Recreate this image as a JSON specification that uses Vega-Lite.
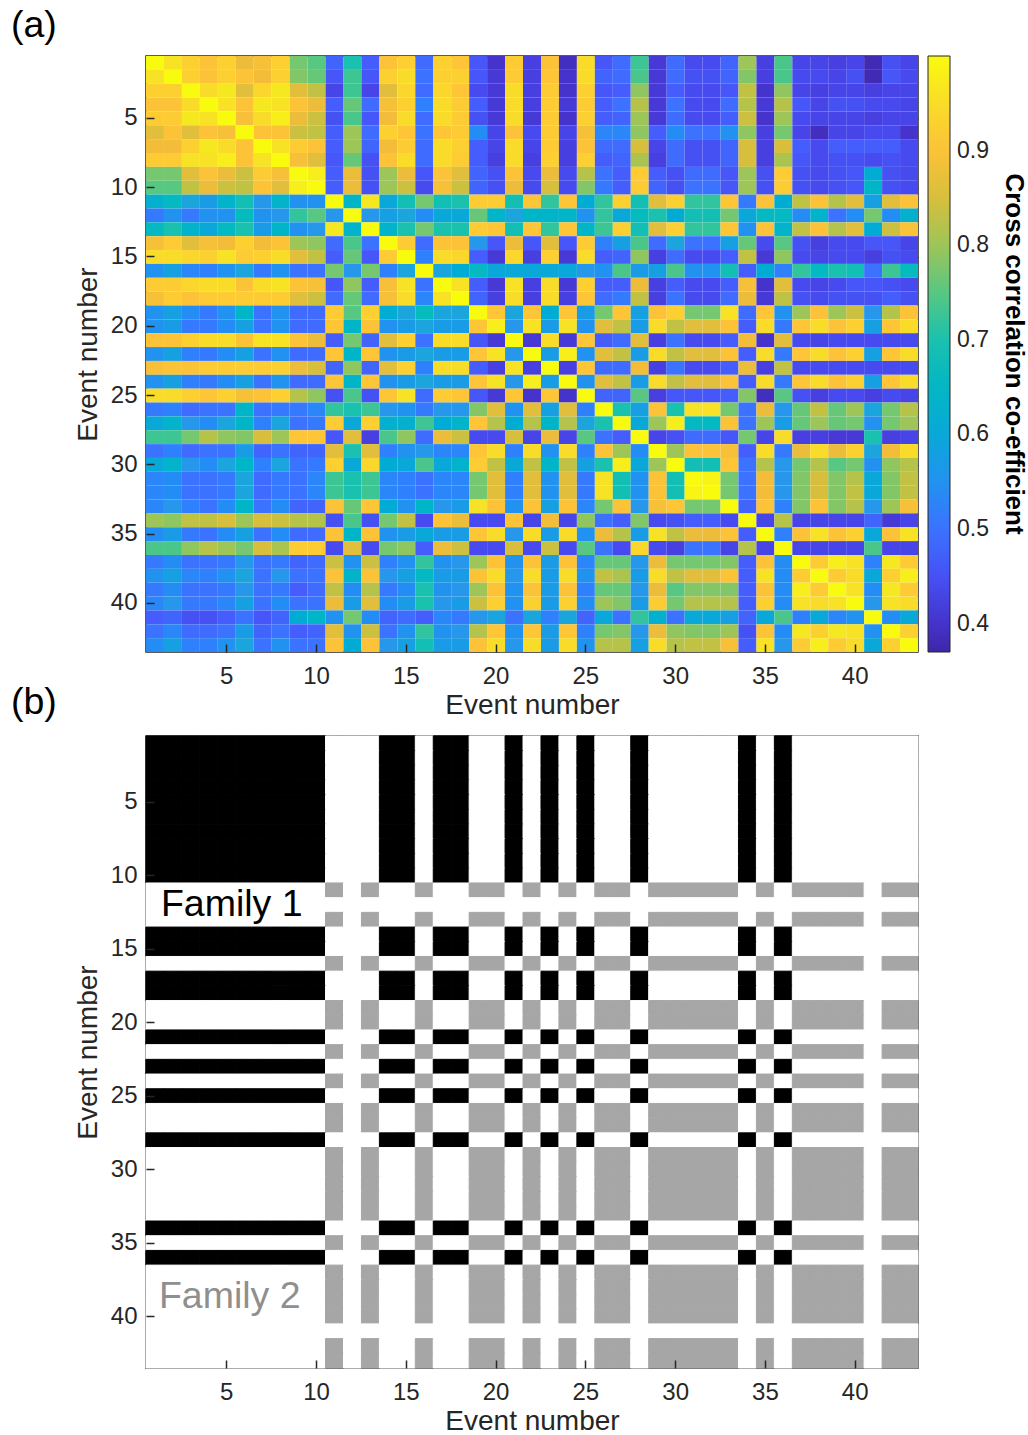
{
"$schema":"https://vega.github.io/schema/vega-lite/v6.json",
"padding":{"left":10,"top":6,"right":0,"bottom":0},
"background":"white",
"config":{
 "font":"Liberation Sans",
 "view":{"stroke":"#262626","strokeWidth":1.5},
 "axis":{"grid":false,"domain":false,"labelFont":"Liberation Sans","titleFont":"Liberation Sans","labelFontSize":24,"titleFontSize":28,"titleFontWeight":"normal","labelColor":"#262626","titleColor":"#262626","tickColor":"#262626","tickWidth":1.5,"tickSize":-8},
 "legend":{"labelFont":"Liberation Sans","titleFont":"Liberation Sans"}
},
"datasets":{"m":[
{"y":1,"x":1,"c":1,"f":1},{"y":1,"x":2,"c":0.96,"f":1},{"y":1,"x":3,"c":0.93,"f":1},{"y":1,"x":4,"c":0.9,"f":1},{"y":1,"x":5,"c":0.93,"f":1},{"y":1,"x":6,"c":0.87,"f":1},{"y":1,"x":7,"c":0.89,"f":1},{"y":1,"x":8,"c":0.93,"f":1},{"y":1,"x":9,"c":0.77,"f":1},{"y":1,"x":10,"c":0.75,"f":1},{"y":1,"x":11,"c":0.48,"f":0},{"y":1,"x":12,"c":0.7,"f":0},{"y":1,"x":13,"c":0.47,"f":0},{"y":1,"x":14,"c":0.9,"f":1},{"y":1,"x":15,"c":0.93,"f":1},{"y":1,"x":16,"c":0.49,"f":0},{"y":1,"x":17,"c":0.93,"f":1},{"y":1,"x":18,"c":0.91,"f":1},{"y":1,"x":19,"c":0.46,"f":0},{"y":1,"x":20,"c":0.4,"f":0},{"y":1,"x":21,"c":0.92,"f":1},{"y":1,"x":22,"c":0.42,"f":0},{"y":1,"x":23,"c":0.9,"f":1},{"y":1,"x":24,"c":0.39,"f":0},{"y":1,"x":25,"c":0.95,"f":1},{"y":1,"x":26,"c":0.46,"f":0},{"y":1,"x":27,"c":0.49,"f":0},{"y":1,"x":28,"c":0.73,"f":1},{"y":1,"x":29,"c":0.41,"f":0},{"y":1,"x":30,"c":0.49,"f":0},{"y":1,"x":31,"c":0.44,"f":0},{"y":1,"x":32,"c":0.44,"f":0},{"y":1,"x":33,"c":0.48,"f":0},{"y":1,"x":34,"c":0.8,"f":1},{"y":1,"x":35,"c":0.42,"f":0},{"y":1,"x":36,"c":0.74,"f":1},{"y":1,"x":37,"c":0.43,"f":0},{"y":1,"x":38,"c":0.43,"f":0},{"y":1,"x":39,"c":0.42,"f":0},{"y":1,"x":40,"c":0.43,"f":0},{"y":1,"x":41,"c":0.38,"f":0},{"y":1,"x":42,"c":0.45,"f":0},{"y":1,"x":43,"c":0.43,"f":0},
{"y":2,"x":1,"c":0.96,"f":1},{"y":2,"x":2,"c":1,"f":1},{"y":2,"x":3,"c":0.93,"f":1},{"y":2,"x":4,"c":0.9,"f":1},{"y":2,"x":5,"c":0.93,"f":1},{"y":2,"x":6,"c":0.9,"f":1},{"y":2,"x":7,"c":0.88,"f":1},{"y":2,"x":8,"c":0.93,"f":1},{"y":2,"x":9,"c":0.78,"f":1},{"y":2,"x":10,"c":0.76,"f":1},{"y":2,"x":11,"c":0.46,"f":0},{"y":2,"x":12,"c":0.73,"f":0},{"y":2,"x":13,"c":0.46,"f":0},{"y":2,"x":14,"c":0.93,"f":1},{"y":2,"x":15,"c":0.95,"f":1},{"y":2,"x":16,"c":0.5,"f":0},{"y":2,"x":17,"c":0.93,"f":1},{"y":2,"x":18,"c":0.93,"f":1},{"y":2,"x":19,"c":0.46,"f":0},{"y":2,"x":20,"c":0.41,"f":0},{"y":2,"x":21,"c":0.92,"f":1},{"y":2,"x":22,"c":0.42,"f":0},{"y":2,"x":23,"c":0.91,"f":1},{"y":2,"x":24,"c":0.4,"f":0},{"y":2,"x":25,"c":0.95,"f":1},{"y":2,"x":26,"c":0.48,"f":0},{"y":2,"x":27,"c":0.49,"f":0},{"y":2,"x":28,"c":0.74,"f":1},{"y":2,"x":29,"c":0.41,"f":0},{"y":2,"x":30,"c":0.49,"f":0},{"y":2,"x":31,"c":0.45,"f":0},{"y":2,"x":32,"c":0.45,"f":0},{"y":2,"x":33,"c":0.48,"f":0},{"y":2,"x":34,"c":0.78,"f":1},{"y":2,"x":35,"c":0.42,"f":0},{"y":2,"x":36,"c":0.74,"f":1},{"y":2,"x":37,"c":0.44,"f":0},{"y":2,"x":38,"c":0.44,"f":0},{"y":2,"x":39,"c":0.43,"f":0},{"y":2,"x":40,"c":0.45,"f":0},{"y":2,"x":41,"c":0.38,"f":0},{"y":2,"x":42,"c":0.46,"f":0},{"y":2,"x":43,"c":0.44,"f":0},
{"y":3,"x":1,"c":0.93,"f":1},{"y":3,"x":2,"c":0.93,"f":1},{"y":3,"x":3,"c":1,"f":1},{"y":3,"x":4,"c":0.95,"f":1},{"y":3,"x":5,"c":0.97,"f":1},{"y":3,"x":6,"c":0.86,"f":1},{"y":3,"x":7,"c":0.94,"f":1},{"y":3,"x":8,"c":0.97,"f":1},{"y":3,"x":9,"c":0.86,"f":1},{"y":3,"x":10,"c":0.83,"f":1},{"y":3,"x":11,"c":0.43,"f":0},{"y":3,"x":12,"c":0.73,"f":0},{"y":3,"x":13,"c":0.43,"f":0},{"y":3,"x":14,"c":0.86,"f":1},{"y":3,"x":15,"c":0.94,"f":1},{"y":3,"x":16,"c":0.49,"f":0},{"y":3,"x":17,"c":0.94,"f":1},{"y":3,"x":18,"c":0.91,"f":1},{"y":3,"x":19,"c":0.44,"f":0},{"y":3,"x":20,"c":0.41,"f":0},{"y":3,"x":21,"c":0.95,"f":1},{"y":3,"x":22,"c":0.42,"f":0},{"y":3,"x":23,"c":0.92,"f":1},{"y":3,"x":24,"c":0.4,"f":0},{"y":3,"x":25,"c":0.93,"f":1},{"y":3,"x":26,"c":0.46,"f":0},{"y":3,"x":27,"c":0.47,"f":0},{"y":3,"x":28,"c":0.79,"f":1},{"y":3,"x":29,"c":0.41,"f":0},{"y":3,"x":30,"c":0.47,"f":0},{"y":3,"x":31,"c":0.44,"f":0},{"y":3,"x":32,"c":0.44,"f":0},{"y":3,"x":33,"c":0.46,"f":0},{"y":3,"x":34,"c":0.83,"f":1},{"y":3,"x":35,"c":0.4,"f":0},{"y":3,"x":36,"c":0.79,"f":1},{"y":3,"x":37,"c":0.43,"f":0},{"y":3,"x":38,"c":0.42,"f":0},{"y":3,"x":39,"c":0.43,"f":0},{"y":3,"x":40,"c":0.43,"f":0},{"y":3,"x":41,"c":0.42,"f":0},{"y":3,"x":42,"c":0.43,"f":0},{"y":3,"x":43,"c":0.43,"f":0},
{"y":4,"x":1,"c":0.9,"f":1},{"y":4,"x":2,"c":0.9,"f":1},{"y":4,"x":3,"c":0.95,"f":1},{"y":4,"x":4,"c":1,"f":1},{"y":4,"x":5,"c":0.96,"f":1},{"y":4,"x":6,"c":0.9,"f":1},{"y":4,"x":7,"c":0.97,"f":1},{"y":4,"x":8,"c":0.96,"f":1},{"y":4,"x":9,"c":0.9,"f":1},{"y":4,"x":10,"c":0.87,"f":1},{"y":4,"x":11,"c":0.47,"f":0},{"y":4,"x":12,"c":0.76,"f":0},{"y":4,"x":13,"c":0.49,"f":0},{"y":4,"x":14,"c":0.89,"f":1},{"y":4,"x":15,"c":0.93,"f":1},{"y":4,"x":16,"c":0.52,"f":0},{"y":4,"x":17,"c":0.95,"f":1},{"y":4,"x":18,"c":0.92,"f":1},{"y":4,"x":19,"c":0.47,"f":0},{"y":4,"x":20,"c":0.41,"f":0},{"y":4,"x":21,"c":0.95,"f":1},{"y":4,"x":22,"c":0.42,"f":0},{"y":4,"x":23,"c":0.92,"f":1},{"y":4,"x":24,"c":0.41,"f":0},{"y":4,"x":25,"c":0.92,"f":1},{"y":4,"x":26,"c":0.47,"f":0},{"y":4,"x":27,"c":0.5,"f":0},{"y":4,"x":28,"c":0.82,"f":1},{"y":4,"x":29,"c":0.41,"f":0},{"y":4,"x":30,"c":0.5,"f":0},{"y":4,"x":31,"c":0.44,"f":0},{"y":4,"x":32,"c":0.44,"f":0},{"y":4,"x":33,"c":0.49,"f":0},{"y":4,"x":34,"c":0.82,"f":1},{"y":4,"x":35,"c":0.41,"f":0},{"y":4,"x":36,"c":0.82,"f":1},{"y":4,"x":37,"c":0.46,"f":0},{"y":4,"x":38,"c":0.43,"f":0},{"y":4,"x":39,"c":0.45,"f":0},{"y":4,"x":40,"c":0.45,"f":0},{"y":4,"x":41,"c":0.44,"f":0},{"y":4,"x":42,"c":0.44,"f":0},{"y":4,"x":43,"c":0.43,"f":0},
{"y":5,"x":1,"c":0.92,"f":1},{"y":5,"x":2,"c":0.92,"f":1},{"y":5,"x":3,"c":0.97,"f":1},{"y":5,"x":4,"c":0.96,"f":1},{"y":5,"x":5,"c":1,"f":1},{"y":5,"x":6,"c":0.89,"f":1},{"y":5,"x":7,"c":0.95,"f":1},{"y":5,"x":8,"c":0.98,"f":1},{"y":5,"x":9,"c":0.87,"f":1},{"y":5,"x":10,"c":0.84,"f":1},{"y":5,"x":11,"c":0.45,"f":0},{"y":5,"x":12,"c":0.74,"f":0},{"y":5,"x":13,"c":0.46,"f":0},{"y":5,"x":14,"c":0.88,"f":1},{"y":5,"x":15,"c":0.95,"f":1},{"y":5,"x":16,"c":0.49,"f":0},{"y":5,"x":17,"c":0.95,"f":1},{"y":5,"x":18,"c":0.92,"f":1},{"y":5,"x":19,"c":0.45,"f":0},{"y":5,"x":20,"c":0.41,"f":0},{"y":5,"x":21,"c":0.95,"f":1},{"y":5,"x":22,"c":0.41,"f":0},{"y":5,"x":23,"c":0.92,"f":1},{"y":5,"x":24,"c":0.4,"f":0},{"y":5,"x":25,"c":0.93,"f":1},{"y":5,"x":26,"c":0.47,"f":0},{"y":5,"x":27,"c":0.48,"f":0},{"y":5,"x":28,"c":0.8,"f":1},{"y":5,"x":29,"c":0.41,"f":0},{"y":5,"x":30,"c":0.49,"f":0},{"y":5,"x":31,"c":0.44,"f":0},{"y":5,"x":32,"c":0.44,"f":0},{"y":5,"x":33,"c":0.47,"f":0},{"y":5,"x":34,"c":0.84,"f":1},{"y":5,"x":35,"c":0.4,"f":0},{"y":5,"x":36,"c":0.8,"f":1},{"y":5,"x":37,"c":0.44,"f":0},{"y":5,"x":38,"c":0.43,"f":0},{"y":5,"x":39,"c":0.43,"f":0},{"y":5,"x":40,"c":0.43,"f":0},{"y":5,"x":41,"c":0.42,"f":0},{"y":5,"x":42,"c":0.43,"f":0},{"y":5,"x":43,"c":0.43,"f":0},
{"y":6,"x":1,"c":0.86,"f":1},{"y":6,"x":2,"c":0.9,"f":1},{"y":6,"x":3,"c":0.86,"f":1},{"y":6,"x":4,"c":0.9,"f":1},{"y":6,"x":5,"c":0.89,"f":1},{"y":6,"x":6,"c":1,"f":1},{"y":6,"x":7,"c":0.9,"f":1},{"y":6,"x":8,"c":0.9,"f":1},{"y":6,"x":9,"c":0.84,"f":1},{"y":6,"x":10,"c":0.83,"f":1},{"y":6,"x":11,"c":0.47,"f":0},{"y":6,"x":12,"c":0.8,"f":0},{"y":6,"x":13,"c":0.49,"f":0},{"y":6,"x":14,"c":0.93,"f":1},{"y":6,"x":15,"c":0.91,"f":1},{"y":6,"x":16,"c":0.5,"f":0},{"y":6,"x":17,"c":0.91,"f":1},{"y":6,"x":18,"c":0.92,"f":1},{"y":6,"x":19,"c":0.54,"f":0},{"y":6,"x":20,"c":0.43,"f":0},{"y":6,"x":21,"c":0.9,"f":1},{"y":6,"x":22,"c":0.44,"f":0},{"y":6,"x":23,"c":0.92,"f":1},{"y":6,"x":24,"c":0.43,"f":0},{"y":6,"x":25,"c":0.89,"f":1},{"y":6,"x":26,"c":0.53,"f":0},{"y":6,"x":27,"c":0.53,"f":0},{"y":6,"x":28,"c":0.79,"f":1},{"y":6,"x":29,"c":0.47,"f":0},{"y":6,"x":30,"c":0.54,"f":0},{"y":6,"x":31,"c":0.5,"f":0},{"y":6,"x":32,"c":0.5,"f":0},{"y":6,"x":33,"c":0.55,"f":0},{"y":6,"x":34,"c":0.79,"f":1},{"y":6,"x":35,"c":0.42,"f":0},{"y":6,"x":36,"c":0.77,"f":1},{"y":6,"x":37,"c":0.43,"f":0},{"y":6,"x":38,"c":0.39,"f":0},{"y":6,"x":39,"c":0.43,"f":0},{"y":6,"x":40,"c":0.43,"f":0},{"y":6,"x":41,"c":0.44,"f":0},{"y":6,"x":42,"c":0.44,"f":0},{"y":6,"x":43,"c":0.4,"f":0},
{"y":7,"x":1,"c":0.88,"f":1},{"y":7,"x":2,"c":0.88,"f":1},{"y":7,"x":3,"c":0.93,"f":1},{"y":7,"x":4,"c":0.97,"f":1},{"y":7,"x":5,"c":0.95,"f":1},{"y":7,"x":6,"c":0.9,"f":1},{"y":7,"x":7,"c":1,"f":1},{"y":7,"x":8,"c":0.96,"f":1},{"y":7,"x":9,"c":0.92,"f":1},{"y":7,"x":10,"c":0.9,"f":1},{"y":7,"x":11,"c":0.47,"f":0},{"y":7,"x":12,"c":0.8,"f":0},{"y":7,"x":13,"c":0.48,"f":0},{"y":7,"x":14,"c":0.88,"f":1},{"y":7,"x":15,"c":0.92,"f":1},{"y":7,"x":16,"c":0.49,"f":0},{"y":7,"x":17,"c":0.95,"f":1},{"y":7,"x":18,"c":0.93,"f":1},{"y":7,"x":19,"c":0.47,"f":0},{"y":7,"x":20,"c":0.43,"f":0},{"y":7,"x":21,"c":0.95,"f":1},{"y":7,"x":22,"c":0.43,"f":0},{"y":7,"x":23,"c":0.92,"f":1},{"y":7,"x":24,"c":0.42,"f":0},{"y":7,"x":25,"c":0.9,"f":1},{"y":7,"x":26,"c":0.49,"f":0},{"y":7,"x":27,"c":0.49,"f":0},{"y":7,"x":28,"c":0.85,"f":1},{"y":7,"x":29,"c":0.43,"f":0},{"y":7,"x":30,"c":0.49,"f":0},{"y":7,"x":31,"c":0.45,"f":0},{"y":7,"x":32,"c":0.45,"f":0},{"y":7,"x":33,"c":0.48,"f":0},{"y":7,"x":34,"c":0.85,"f":1},{"y":7,"x":35,"c":0.42,"f":0},{"y":7,"x":36,"c":0.85,"f":1},{"y":7,"x":37,"c":0.47,"f":0},{"y":7,"x":38,"c":0.44,"f":0},{"y":7,"x":39,"c":0.47,"f":0},{"y":7,"x":40,"c":0.47,"f":0},{"y":7,"x":41,"c":0.47,"f":0},{"y":7,"x":42,"c":0.47,"f":0},{"y":7,"x":43,"c":0.44,"f":0},
{"y":8,"x":1,"c":0.92,"f":1},{"y":8,"x":2,"c":0.92,"f":1},{"y":8,"x":3,"c":0.96,"f":1},{"y":8,"x":4,"c":0.96,"f":1},{"y":8,"x":5,"c":0.98,"f":1},{"y":8,"x":6,"c":0.9,"f":1},{"y":8,"x":7,"c":0.96,"f":1},{"y":8,"x":8,"c":1,"f":1},{"y":8,"x":9,"c":0.89,"f":1},{"y":8,"x":10,"c":0.86,"f":1},{"y":8,"x":11,"c":0.46,"f":0},{"y":8,"x":12,"c":0.76,"f":0},{"y":8,"x":13,"c":0.45,"f":0},{"y":8,"x":14,"c":0.9,"f":1},{"y":8,"x":15,"c":0.95,"f":1},{"y":8,"x":16,"c":0.49,"f":0},{"y":8,"x":17,"c":0.95,"f":1},{"y":8,"x":18,"c":0.92,"f":1},{"y":8,"x":19,"c":0.47,"f":0},{"y":8,"x":20,"c":0.42,"f":0},{"y":8,"x":21,"c":0.95,"f":1},{"y":8,"x":22,"c":0.42,"f":0},{"y":8,"x":23,"c":0.93,"f":1},{"y":8,"x":24,"c":0.42,"f":0},{"y":8,"x":25,"c":0.93,"f":1},{"y":8,"x":26,"c":0.47,"f":0},{"y":8,"x":27,"c":0.48,"f":0},{"y":8,"x":28,"c":0.81,"f":1},{"y":8,"x":29,"c":0.42,"f":0},{"y":8,"x":30,"c":0.49,"f":0},{"y":8,"x":31,"c":0.45,"f":0},{"y":8,"x":32,"c":0.45,"f":0},{"y":8,"x":33,"c":0.48,"f":0},{"y":8,"x":34,"c":0.85,"f":1},{"y":8,"x":35,"c":0.42,"f":0},{"y":8,"x":36,"c":0.81,"f":1},{"y":8,"x":37,"c":0.46,"f":0},{"y":8,"x":38,"c":0.44,"f":0},{"y":8,"x":39,"c":0.45,"f":0},{"y":8,"x":40,"c":0.45,"f":0},{"y":8,"x":41,"c":0.44,"f":0},{"y":8,"x":42,"c":0.45,"f":0},{"y":8,"x":43,"c":0.44,"f":0},
{"y":9,"x":1,"c":0.77,"f":1},{"y":9,"x":2,"c":0.77,"f":1},{"y":9,"x":3,"c":0.86,"f":1},{"y":9,"x":4,"c":0.9,"f":1},{"y":9,"x":5,"c":0.87,"f":1},{"y":9,"x":6,"c":0.84,"f":1},{"y":9,"x":7,"c":0.92,"f":1},{"y":9,"x":8,"c":0.89,"f":1},{"y":9,"x":9,"c":1,"f":1},{"y":9,"x":10,"c":0.98,"f":1},{"y":9,"x":11,"c":0.47,"f":0},{"y":9,"x":12,"c":0.87,"f":0},{"y":9,"x":13,"c":0.45,"f":0},{"y":9,"x":14,"c":0.8,"f":1},{"y":9,"x":15,"c":0.87,"f":1},{"y":9,"x":16,"c":0.46,"f":0},{"y":9,"x":17,"c":0.9,"f":1},{"y":9,"x":18,"c":0.86,"f":1},{"y":9,"x":19,"c":0.48,"f":0},{"y":9,"x":20,"c":0.45,"f":0},{"y":9,"x":21,"c":0.9,"f":1},{"y":9,"x":22,"c":0.44,"f":0},{"y":9,"x":23,"c":0.87,"f":1},{"y":9,"x":24,"c":0.44,"f":0},{"y":9,"x":25,"c":0.82,"f":1},{"y":9,"x":26,"c":0.5,"f":0},{"y":9,"x":27,"c":0.47,"f":0},{"y":9,"x":28,"c":0.92,"f":1},{"y":9,"x":29,"c":0.47,"f":0},{"y":9,"x":30,"c":0.45,"f":0},{"y":9,"x":31,"c":0.49,"f":0},{"y":9,"x":32,"c":0.49,"f":0},{"y":9,"x":33,"c":0.46,"f":0},{"y":9,"x":34,"c":0.8,"f":1},{"y":9,"x":35,"c":0.45,"f":0},{"y":9,"x":36,"c":0.92,"f":1},{"y":9,"x":37,"c":0.45,"f":0},{"y":9,"x":38,"c":0.44,"f":0},{"y":9,"x":39,"c":0.45,"f":0},{"y":9,"x":40,"c":0.46,"f":0},{"y":9,"x":41,"c":0.61,"f":0},{"y":9,"x":42,"c":0.45,"f":0},{"y":9,"x":43,"c":0.44,"f":0},
{"y":10,"x":1,"c":0.75,"f":1},{"y":10,"x":2,"c":0.75,"f":1},{"y":10,"x":3,"c":0.83,"f":1},{"y":10,"x":4,"c":0.87,"f":1},{"y":10,"x":5,"c":0.84,"f":1},{"y":10,"x":6,"c":0.83,"f":1},{"y":10,"x":7,"c":0.9,"f":1},{"y":10,"x":8,"c":0.86,"f":1},{"y":10,"x":9,"c":0.98,"f":1},{"y":10,"x":10,"c":1,"f":1},{"y":10,"x":11,"c":0.47,"f":0},{"y":10,"x":12,"c":0.87,"f":0},{"y":10,"x":13,"c":0.45,"f":0},{"y":10,"x":14,"c":0.8,"f":1},{"y":10,"x":15,"c":0.84,"f":1},{"y":10,"x":16,"c":0.44,"f":0},{"y":10,"x":17,"c":0.89,"f":1},{"y":10,"x":18,"c":0.84,"f":1},{"y":10,"x":19,"c":0.48,"f":0},{"y":10,"x":20,"c":0.45,"f":0},{"y":10,"x":21,"c":0.87,"f":1},{"y":10,"x":22,"c":0.44,"f":0},{"y":10,"x":23,"c":0.85,"f":1},{"y":10,"x":24,"c":0.44,"f":0},{"y":10,"x":25,"c":0.78,"f":1},{"y":10,"x":26,"c":0.51,"f":0},{"y":10,"x":27,"c":0.47,"f":0},{"y":10,"x":28,"c":0.92,"f":1},{"y":10,"x":29,"c":0.48,"f":0},{"y":10,"x":30,"c":0.45,"f":0},{"y":10,"x":31,"c":0.5,"f":0},{"y":10,"x":32,"c":0.5,"f":0},{"y":10,"x":33,"c":0.46,"f":0},{"y":10,"x":34,"c":0.8,"f":1},{"y":10,"x":35,"c":0.45,"f":0},{"y":10,"x":36,"c":0.92,"f":1},{"y":10,"x":37,"c":0.45,"f":0},{"y":10,"x":38,"c":0.44,"f":0},{"y":10,"x":39,"c":0.45,"f":0},{"y":10,"x":40,"c":0.46,"f":0},{"y":10,"x":41,"c":0.64,"f":0},{"y":10,"x":42,"c":0.45,"f":0},{"y":10,"x":43,"c":0.44,"f":0},
{"y":11,"x":1,"c":0.62,"f":0},{"y":11,"x":2,"c":0.66,"f":0},{"y":11,"x":3,"c":0.59,"f":0},{"y":11,"x":4,"c":0.57,"f":0},{"y":11,"x":5,"c":0.63,"f":0},{"y":11,"x":6,"c":0.69,"f":0},{"y":11,"x":7,"c":0.56,"f":0},{"y":11,"x":8,"c":0.63,"f":0},{"y":11,"x":9,"c":0.55,"f":0},{"y":11,"x":10,"c":0.55,"f":0},{"y":11,"x":11,"c":1,"f":2},{"y":11,"x":12,"c":0.64,"f":0},{"y":11,"x":13,"c":0.97,"f":2},{"y":11,"x":14,"c":0.6,"f":0},{"y":11,"x":15,"c":0.69,"f":0},{"y":11,"x":16,"c":0.77,"f":2},{"y":11,"x":17,"c":0.69,"f":0},{"y":11,"x":18,"c":0.7,"f":0},{"y":11,"x":19,"c":0.92,"f":2},{"y":11,"x":20,"c":0.92,"f":2},{"y":11,"x":21,"c":0.69,"f":0},{"y":11,"x":22,"c":0.91,"f":2},{"y":11,"x":23,"c":0.72,"f":0},{"y":11,"x":24,"c":0.91,"f":2},{"y":11,"x":25,"c":0.61,"f":0},{"y":11,"x":26,"c":0.72,"f":2},{"y":11,"x":27,"c":0.93,"f":2},{"y":11,"x":28,"c":0.69,"f":0},{"y":11,"x":29,"c":0.86,"f":2},{"y":11,"x":30,"c":0.93,"f":2},{"y":11,"x":31,"c":0.72,"f":2},{"y":11,"x":32,"c":0.72,"f":2},{"y":11,"x":33,"c":0.91,"f":2},{"y":11,"x":34,"c":0.51,"f":0},{"y":11,"x":35,"c":0.9,"f":2},{"y":11,"x":36,"c":0.61,"f":0},{"y":11,"x":37,"c":0.83,"f":2},{"y":11,"x":38,"c":0.9,"f":2},{"y":11,"x":39,"c":0.82,"f":2},{"y":11,"x":40,"c":0.86,"f":2},{"y":11,"x":41,"c":0.58,"f":0},{"y":11,"x":42,"c":0.86,"f":2},{"y":11,"x":43,"c":0.9,"f":2},
{"y":12,"x":1,"c":0.51,"f":0},{"y":12,"x":2,"c":0.55,"f":0},{"y":12,"x":3,"c":0.51,"f":0},{"y":12,"x":4,"c":0.55,"f":0},{"y":12,"x":5,"c":0.55,"f":0},{"y":12,"x":6,"c":0.67,"f":0},{"y":12,"x":7,"c":0.55,"f":0},{"y":12,"x":8,"c":0.56,"f":0},{"y":12,"x":9,"c":0.72,"f":0},{"y":12,"x":10,"c":0.75,"f":0},{"y":12,"x":11,"c":0.56,"f":0},{"y":12,"x":12,"c":1,"f":0},{"y":12,"x":13,"c":0.56,"f":0},{"y":12,"x":14,"c":0.58,"f":0},{"y":12,"x":15,"c":0.59,"f":0},{"y":12,"x":16,"c":0.54,"f":0},{"y":12,"x":17,"c":0.6,"f":0},{"y":12,"x":18,"c":0.6,"f":0},{"y":12,"x":19,"c":0.76,"f":0},{"y":12,"x":20,"c":0.64,"f":0},{"y":12,"x":21,"c":0.59,"f":0},{"y":12,"x":22,"c":0.64,"f":0},{"y":12,"x":23,"c":0.64,"f":0},{"y":12,"x":24,"c":0.64,"f":0},{"y":12,"x":25,"c":0.55,"f":0},{"y":12,"x":26,"c":0.72,"f":0},{"y":12,"x":27,"c":0.6,"f":0},{"y":12,"x":28,"c":0.67,"f":0},{"y":12,"x":29,"c":0.7,"f":0},{"y":12,"x":30,"c":0.61,"f":0},{"y":12,"x":31,"c":0.69,"f":0},{"y":12,"x":32,"c":0.69,"f":0},{"y":12,"x":33,"c":0.77,"f":0},{"y":12,"x":34,"c":0.6,"f":0},{"y":12,"x":35,"c":0.66,"f":0},{"y":12,"x":36,"c":0.66,"f":0},{"y":12,"x":37,"c":0.54,"f":0},{"y":12,"x":38,"c":0.63,"f":0},{"y":12,"x":39,"c":0.5,"f":0},{"y":12,"x":40,"c":0.54,"f":0},{"y":12,"x":41,"c":0.77,"f":0},{"y":12,"x":42,"c":0.54,"f":0},{"y":12,"x":43,"c":0.62,"f":0},
{"y":13,"x":1,"c":0.66,"f":0},{"y":13,"x":2,"c":0.7,"f":0},{"y":13,"x":3,"c":0.63,"f":0},{"y":13,"x":4,"c":0.6,"f":0},{"y":13,"x":5,"c":0.66,"f":0},{"y":13,"x":6,"c":0.7,"f":0},{"y":13,"x":7,"c":0.57,"f":0},{"y":13,"x":8,"c":0.64,"f":0},{"y":13,"x":9,"c":0.55,"f":0},{"y":13,"x":10,"c":0.56,"f":0},{"y":13,"x":11,"c":0.97,"f":2},{"y":13,"x":12,"c":0.63,"f":0},{"y":13,"x":13,"c":1,"f":2},{"y":13,"x":14,"c":0.63,"f":0},{"y":13,"x":15,"c":0.7,"f":0},{"y":13,"x":16,"c":0.77,"f":2},{"y":13,"x":17,"c":0.7,"f":0},{"y":13,"x":18,"c":0.7,"f":0},{"y":13,"x":19,"c":0.92,"f":2},{"y":13,"x":20,"c":0.91,"f":2},{"y":13,"x":21,"c":0.69,"f":0},{"y":13,"x":22,"c":0.91,"f":2},{"y":13,"x":23,"c":0.72,"f":0},{"y":13,"x":24,"c":0.91,"f":2},{"y":13,"x":25,"c":0.64,"f":0},{"y":13,"x":26,"c":0.73,"f":2},{"y":13,"x":27,"c":0.93,"f":2},{"y":13,"x":28,"c":0.69,"f":0},{"y":13,"x":29,"c":0.86,"f":2},{"y":13,"x":30,"c":0.93,"f":2},{"y":13,"x":31,"c":0.72,"f":2},{"y":13,"x":32,"c":0.72,"f":2},{"y":13,"x":33,"c":0.91,"f":2},{"y":13,"x":34,"c":0.55,"f":0},{"y":13,"x":35,"c":0.9,"f":2},{"y":13,"x":36,"c":0.63,"f":0},{"y":13,"x":37,"c":0.83,"f":2},{"y":13,"x":38,"c":0.9,"f":2},{"y":13,"x":39,"c":0.82,"f":2},{"y":13,"x":40,"c":0.86,"f":2},{"y":13,"x":41,"c":0.61,"f":0},{"y":13,"x":42,"c":0.84,"f":2},{"y":13,"x":43,"c":0.9,"f":2},
{"y":14,"x":1,"c":0.89,"f":1},{"y":14,"x":2,"c":0.92,"f":1},{"y":14,"x":3,"c":0.86,"f":1},{"y":14,"x":4,"c":0.89,"f":1},{"y":14,"x":5,"c":0.88,"f":1},{"y":14,"x":6,"c":0.93,"f":1},{"y":14,"x":7,"c":0.88,"f":1},{"y":14,"x":8,"c":0.9,"f":1},{"y":14,"x":9,"c":0.8,"f":1},{"y":14,"x":10,"c":0.79,"f":1},{"y":14,"x":11,"c":0.49,"f":0},{"y":14,"x":12,"c":0.74,"f":0},{"y":14,"x":13,"c":0.5,"f":0},{"y":14,"x":14,"c":1,"f":1},{"y":14,"x":15,"c":0.92,"f":1},{"y":14,"x":16,"c":0.49,"f":0},{"y":14,"x":17,"c":0.9,"f":1},{"y":14,"x":18,"c":0.9,"f":1},{"y":14,"x":19,"c":0.56,"f":0},{"y":14,"x":20,"c":0.46,"f":0},{"y":14,"x":21,"c":0.87,"f":1},{"y":14,"x":22,"c":0.46,"f":0},{"y":14,"x":23,"c":0.86,"f":1},{"y":14,"x":24,"c":0.46,"f":0},{"y":14,"x":25,"c":0.92,"f":1},{"y":14,"x":26,"c":0.52,"f":0},{"y":14,"x":27,"c":0.58,"f":0},{"y":14,"x":28,"c":0.74,"f":1},{"y":14,"x":29,"c":0.49,"f":0},{"y":14,"x":30,"c":0.59,"f":0},{"y":14,"x":31,"c":0.5,"f":0},{"y":14,"x":32,"c":0.5,"f":0},{"y":14,"x":33,"c":0.58,"f":0},{"y":14,"x":34,"c":0.76,"f":1},{"y":14,"x":35,"c":0.44,"f":0},{"y":14,"x":36,"c":0.75,"f":1},{"y":14,"x":37,"c":0.45,"f":0},{"y":14,"x":38,"c":0.42,"f":0},{"y":14,"x":39,"c":0.44,"f":0},{"y":14,"x":40,"c":0.44,"f":0},{"y":14,"x":41,"c":0.46,"f":0},{"y":14,"x":42,"c":0.46,"f":0},{"y":14,"x":43,"c":0.43,"f":0},
{"y":15,"x":1,"c":0.95,"f":1},{"y":15,"x":2,"c":0.95,"f":1},{"y":15,"x":3,"c":0.94,"f":1},{"y":15,"x":4,"c":0.93,"f":1},{"y":15,"x":5,"c":0.96,"f":1},{"y":15,"x":6,"c":0.92,"f":1},{"y":15,"x":7,"c":0.93,"f":1},{"y":15,"x":8,"c":0.95,"f":1},{"y":15,"x":9,"c":0.86,"f":1},{"y":15,"x":10,"c":0.83,"f":1},{"y":15,"x":11,"c":0.47,"f":0},{"y":15,"x":12,"c":0.76,"f":0},{"y":15,"x":13,"c":0.46,"f":0},{"y":15,"x":14,"c":0.92,"f":1},{"y":15,"x":15,"c":1,"f":1},{"y":15,"x":16,"c":0.52,"f":0},{"y":15,"x":17,"c":0.95,"f":1},{"y":15,"x":18,"c":0.94,"f":1},{"y":15,"x":19,"c":0.47,"f":0},{"y":15,"x":20,"c":0.41,"f":0},{"y":15,"x":21,"c":0.94,"f":1},{"y":15,"x":22,"c":0.42,"f":0},{"y":15,"x":23,"c":0.93,"f":1},{"y":15,"x":24,"c":0.41,"f":0},{"y":15,"x":25,"c":0.95,"f":1},{"y":15,"x":26,"c":0.47,"f":0},{"y":15,"x":27,"c":0.48,"f":0},{"y":15,"x":28,"c":0.79,"f":1},{"y":15,"x":29,"c":0.42,"f":0},{"y":15,"x":30,"c":0.49,"f":0},{"y":15,"x":31,"c":0.44,"f":0},{"y":15,"x":32,"c":0.44,"f":0},{"y":15,"x":33,"c":0.47,"f":0},{"y":15,"x":34,"c":0.83,"f":1},{"y":15,"x":35,"c":0.41,"f":0},{"y":15,"x":36,"c":0.79,"f":1},{"y":15,"x":37,"c":0.44,"f":0},{"y":15,"x":38,"c":0.43,"f":0},{"y":15,"x":39,"c":0.44,"f":0},{"y":15,"x":40,"c":0.44,"f":0},{"y":15,"x":41,"c":0.42,"f":0},{"y":15,"x":42,"c":0.45,"f":0},{"y":15,"x":43,"c":0.44,"f":0},
{"y":16,"x":1,"c":0.55,"f":0},{"y":16,"x":2,"c":0.58,"f":0},{"y":16,"x":3,"c":0.53,"f":0},{"y":16,"x":4,"c":0.52,"f":0},{"y":16,"x":5,"c":0.55,"f":0},{"y":16,"x":6,"c":0.59,"f":0},{"y":16,"x":7,"c":0.51,"f":0},{"y":16,"x":8,"c":0.55,"f":0},{"y":16,"x":9,"c":0.5,"f":0},{"y":16,"x":10,"c":0.5,"f":0},{"y":16,"x":11,"c":0.77,"f":2},{"y":16,"x":12,"c":0.56,"f":0},{"y":16,"x":13,"c":0.77,"f":2},{"y":16,"x":14,"c":0.52,"f":0},{"y":16,"x":15,"c":0.59,"f":0},{"y":16,"x":16,"c":1,"f":2},{"y":16,"x":17,"c":0.59,"f":0},{"y":16,"x":18,"c":0.61,"f":0},{"y":16,"x":19,"c":0.66,"f":2},{"y":16,"x":20,"c":0.6,"f":2},{"y":16,"x":21,"c":0.6,"f":0},{"y":16,"x":22,"c":0.6,"f":2},{"y":16,"x":23,"c":0.6,"f":0},{"y":16,"x":24,"c":0.6,"f":2},{"y":16,"x":25,"c":0.56,"f":0},{"y":16,"x":26,"c":0.55,"f":2},{"y":16,"x":27,"c":0.74,"f":2},{"y":16,"x":28,"c":0.57,"f":0},{"y":16,"x":29,"c":0.58,"f":2},{"y":16,"x":30,"c":0.74,"f":2},{"y":16,"x":31,"c":0.55,"f":2},{"y":16,"x":32,"c":0.55,"f":2},{"y":16,"x":33,"c":0.69,"f":2},{"y":16,"x":34,"c":0.47,"f":0},{"y":16,"x":35,"c":0.61,"f":2},{"y":16,"x":36,"c":0.52,"f":0},{"y":16,"x":37,"c":0.72,"f":2},{"y":16,"x":38,"c":0.66,"f":2},{"y":16,"x":39,"c":0.7,"f":2},{"y":16,"x":40,"c":0.69,"f":2},{"y":16,"x":41,"c":0.5,"f":0},{"y":16,"x":42,"c":0.73,"f":2},{"y":16,"x":43,"c":0.67,"f":2},
{"y":17,"x":1,"c":0.92,"f":1},{"y":17,"x":2,"c":0.92,"f":1},{"y":17,"x":3,"c":0.94,"f":1},{"y":17,"x":4,"c":0.95,"f":1},{"y":17,"x":5,"c":0.95,"f":1},{"y":17,"x":6,"c":0.9,"f":1},{"y":17,"x":7,"c":0.95,"f":1},{"y":17,"x":8,"c":0.96,"f":1},{"y":17,"x":9,"c":0.9,"f":1},{"y":17,"x":10,"c":0.89,"f":1},{"y":17,"x":11,"c":0.46,"f":0},{"y":17,"x":12,"c":0.79,"f":0},{"y":17,"x":13,"c":0.47,"f":0},{"y":17,"x":14,"c":0.89,"f":1},{"y":17,"x":15,"c":0.96,"f":1},{"y":17,"x":16,"c":0.5,"f":0},{"y":17,"x":17,"c":1,"f":1},{"y":17,"x":18,"c":0.96,"f":1},{"y":17,"x":19,"c":0.47,"f":0},{"y":17,"x":20,"c":0.41,"f":0},{"y":17,"x":21,"c":0.96,"f":1},{"y":17,"x":22,"c":0.42,"f":0},{"y":17,"x":23,"c":0.95,"f":1},{"y":17,"x":24,"c":0.41,"f":0},{"y":17,"x":25,"c":0.93,"f":1},{"y":17,"x":26,"c":0.47,"f":0},{"y":17,"x":27,"c":0.47,"f":0},{"y":17,"x":28,"c":0.87,"f":1},{"y":17,"x":29,"c":0.42,"f":0},{"y":17,"x":30,"c":0.47,"f":0},{"y":17,"x":31,"c":0.44,"f":0},{"y":17,"x":32,"c":0.44,"f":0},{"y":17,"x":33,"c":0.47,"f":0},{"y":17,"x":34,"c":0.89,"f":1},{"y":17,"x":35,"c":0.4,"f":0},{"y":17,"x":36,"c":0.86,"f":1},{"y":17,"x":37,"c":0.44,"f":0},{"y":17,"x":38,"c":0.43,"f":0},{"y":17,"x":39,"c":0.44,"f":0},{"y":17,"x":40,"c":0.46,"f":0},{"y":17,"x":41,"c":0.46,"f":0},{"y":17,"x":42,"c":0.45,"f":0},{"y":17,"x":43,"c":0.44,"f":0},
{"y":18,"x":1,"c":0.89,"f":1},{"y":18,"x":2,"c":0.92,"f":1},{"y":18,"x":3,"c":0.9,"f":1},{"y":18,"x":4,"c":0.92,"f":1},{"y":18,"x":5,"c":0.92,"f":1},{"y":18,"x":6,"c":0.92,"f":1},{"y":18,"x":7,"c":0.92,"f":1},{"y":18,"x":8,"c":0.92,"f":1},{"y":18,"x":9,"c":0.86,"f":1},{"y":18,"x":10,"c":0.84,"f":1},{"y":18,"x":11,"c":0.49,"f":0},{"y":18,"x":12,"c":0.76,"f":0},{"y":18,"x":13,"c":0.49,"f":0},{"y":18,"x":14,"c":0.89,"f":1},{"y":18,"x":15,"c":0.95,"f":1},{"y":18,"x":16,"c":0.53,"f":0},{"y":18,"x":17,"c":0.96,"f":1},{"y":18,"x":18,"c":1,"f":1},{"y":18,"x":19,"c":0.48,"f":0},{"y":18,"x":20,"c":0.42,"f":0},{"y":18,"x":21,"c":0.95,"f":1},{"y":18,"x":22,"c":0.42,"f":0},{"y":18,"x":23,"c":0.95,"f":1},{"y":18,"x":24,"c":0.42,"f":0},{"y":18,"x":25,"c":0.91,"f":1},{"y":18,"x":26,"c":0.49,"f":0},{"y":18,"x":27,"c":0.51,"f":0},{"y":18,"x":28,"c":0.83,"f":1},{"y":18,"x":29,"c":0.42,"f":0},{"y":18,"x":30,"c":0.5,"f":0},{"y":18,"x":31,"c":0.44,"f":0},{"y":18,"x":32,"c":0.44,"f":0},{"y":18,"x":33,"c":0.49,"f":0},{"y":18,"x":34,"c":0.87,"f":1},{"y":18,"x":35,"c":0.41,"f":0},{"y":18,"x":36,"c":0.83,"f":1},{"y":18,"x":37,"c":0.45,"f":0},{"y":18,"x":38,"c":0.44,"f":0},{"y":18,"x":39,"c":0.45,"f":0},{"y":18,"x":40,"c":0.45,"f":0},{"y":18,"x":41,"c":0.45,"f":0},{"y":18,"x":42,"c":0.47,"f":0},{"y":18,"x":43,"c":0.45,"f":0},
{"y":19,"x":1,"c":0.55,"f":0},{"y":19,"x":2,"c":0.58,"f":0},{"y":19,"x":3,"c":0.54,"f":0},{"y":19,"x":4,"c":0.51,"f":0},{"y":19,"x":5,"c":0.55,"f":0},{"y":19,"x":6,"c":0.64,"f":0},{"y":19,"x":7,"c":0.5,"f":0},{"y":19,"x":8,"c":0.55,"f":0},{"y":19,"x":9,"c":0.49,"f":0},{"y":19,"x":10,"c":0.49,"f":0},{"y":19,"x":11,"c":0.92,"f":2},{"y":19,"x":12,"c":0.75,"f":0},{"y":19,"x":13,"c":0.93,"f":2},{"y":19,"x":14,"c":0.61,"f":0},{"y":19,"x":15,"c":0.59,"f":0},{"y":19,"x":16,"c":0.67,"f":2},{"y":19,"x":17,"c":0.59,"f":0},{"y":19,"x":18,"c":0.59,"f":0},{"y":19,"x":19,"c":1,"f":2},{"y":19,"x":20,"c":0.91,"f":2},{"y":19,"x":21,"c":0.59,"f":0},{"y":19,"x":22,"c":0.91,"f":2},{"y":19,"x":23,"c":0.61,"f":0},{"y":19,"x":24,"c":0.91,"f":2},{"y":19,"x":25,"c":0.57,"f":0},{"y":19,"x":26,"c":0.77,"f":2},{"y":19,"x":27,"c":0.91,"f":2},{"y":19,"x":28,"c":0.58,"f":0},{"y":19,"x":29,"c":0.9,"f":2},{"y":19,"x":30,"c":0.93,"f":2},{"y":19,"x":31,"c":0.77,"f":2},{"y":19,"x":32,"c":0.77,"f":2},{"y":19,"x":33,"c":0.96,"f":2},{"y":19,"x":34,"c":0.49,"f":0},{"y":19,"x":35,"c":0.91,"f":2},{"y":19,"x":36,"c":0.55,"f":0},{"y":19,"x":37,"c":0.8,"f":2},{"y":19,"x":38,"c":0.9,"f":2},{"y":19,"x":39,"c":0.8,"f":2},{"y":19,"x":40,"c":0.84,"f":2},{"y":19,"x":41,"c":0.56,"f":0},{"y":19,"x":42,"c":0.82,"f":2},{"y":19,"x":43,"c":0.9,"f":2},
{"y":20,"x":1,"c":0.55,"f":0},{"y":20,"x":2,"c":0.57,"f":0},{"y":20,"x":3,"c":0.51,"f":0},{"y":20,"x":4,"c":0.51,"f":0},{"y":20,"x":5,"c":0.54,"f":0},{"y":20,"x":6,"c":0.58,"f":0},{"y":20,"x":7,"c":0.5,"f":0},{"y":20,"x":8,"c":0.55,"f":0},{"y":20,"x":9,"c":0.49,"f":0},{"y":20,"x":10,"c":0.49,"f":0},{"y":20,"x":11,"c":0.91,"f":2},{"y":20,"x":12,"c":0.64,"f":0},{"y":20,"x":13,"c":0.9,"f":2},{"y":20,"x":14,"c":0.55,"f":0},{"y":20,"x":15,"c":0.57,"f":0},{"y":20,"x":16,"c":0.59,"f":2},{"y":20,"x":17,"c":0.57,"f":0},{"y":20,"x":18,"c":0.57,"f":0},{"y":20,"x":19,"c":0.91,"f":2},{"y":20,"x":20,"c":0.98,"f":2},{"y":20,"x":21,"c":0.56,"f":0},{"y":20,"x":22,"c":0.96,"f":2},{"y":20,"x":23,"c":0.57,"f":0},{"y":20,"x":24,"c":0.96,"f":2},{"y":20,"x":25,"c":0.55,"f":0},{"y":20,"x":26,"c":0.86,"f":2},{"y":20,"x":27,"c":0.83,"f":2},{"y":20,"x":28,"c":0.57,"f":0},{"y":20,"x":29,"c":0.95,"f":2},{"y":20,"x":30,"c":0.83,"f":2},{"y":20,"x":31,"c":0.86,"f":2},{"y":20,"x":32,"c":0.86,"f":2},{"y":20,"x":33,"c":0.9,"f":2},{"y":20,"x":34,"c":0.47,"f":0},{"y":20,"x":35,"c":0.95,"f":2},{"y":20,"x":36,"c":0.51,"f":0},{"y":20,"x":37,"c":0.91,"f":2},{"y":20,"x":38,"c":0.95,"f":2},{"y":20,"x":39,"c":0.9,"f":2},{"y":20,"x":40,"c":0.93,"f":2},{"y":20,"x":41,"c":0.58,"f":0},{"y":20,"x":42,"c":0.91,"f":2},{"y":20,"x":43,"c":0.95,"f":2},
{"y":21,"x":1,"c":0.9,"f":1},{"y":21,"x":2,"c":0.9,"f":1},{"y":21,"x":3,"c":0.93,"f":1},{"y":21,"x":4,"c":0.95,"f":1},{"y":21,"x":5,"c":0.95,"f":1},{"y":21,"x":6,"c":0.9,"f":1},{"y":21,"x":7,"c":0.96,"f":1},{"y":21,"x":8,"c":0.96,"f":1},{"y":21,"x":9,"c":0.9,"f":1},{"y":21,"x":10,"c":0.87,"f":1},{"y":21,"x":11,"c":0.47,"f":0},{"y":21,"x":12,"c":0.77,"f":0},{"y":21,"x":13,"c":0.48,"f":0},{"y":21,"x":14,"c":0.86,"f":1},{"y":21,"x":15,"c":0.93,"f":1},{"y":21,"x":16,"c":0.5,"f":0},{"y":21,"x":17,"c":0.95,"f":1},{"y":21,"x":18,"c":0.95,"f":1},{"y":21,"x":19,"c":0.46,"f":0},{"y":21,"x":20,"c":0.41,"f":0},{"y":21,"x":21,"c":1,"f":1},{"y":21,"x":22,"c":0.41,"f":0},{"y":21,"x":23,"c":0.95,"f":1},{"y":21,"x":24,"c":0.41,"f":0},{"y":21,"x":25,"c":0.91,"f":1},{"y":21,"x":26,"c":0.47,"f":0},{"y":21,"x":27,"c":0.49,"f":0},{"y":21,"x":28,"c":0.86,"f":1},{"y":21,"x":29,"c":0.42,"f":0},{"y":21,"x":30,"c":0.5,"f":0},{"y":21,"x":31,"c":0.44,"f":0},{"y":21,"x":32,"c":0.44,"f":0},{"y":21,"x":33,"c":0.47,"f":0},{"y":21,"x":34,"c":0.88,"f":1},{"y":21,"x":35,"c":0.4,"f":0},{"y":21,"x":36,"c":0.86,"f":1},{"y":21,"x":37,"c":0.44,"f":0},{"y":21,"x":38,"c":0.43,"f":0},{"y":21,"x":39,"c":0.44,"f":0},{"y":21,"x":40,"c":0.44,"f":0},{"y":21,"x":41,"c":0.44,"f":0},{"y":21,"x":42,"c":0.44,"f":0},{"y":21,"x":43,"c":0.44,"f":0},
{"y":22,"x":1,"c":0.55,"f":0},{"y":22,"x":2,"c":0.58,"f":0},{"y":22,"x":3,"c":0.52,"f":0},{"y":22,"x":4,"c":0.51,"f":0},{"y":22,"x":5,"c":0.54,"f":0},{"y":22,"x":6,"c":0.58,"f":0},{"y":22,"x":7,"c":0.5,"f":0},{"y":22,"x":8,"c":0.55,"f":0},{"y":22,"x":9,"c":0.49,"f":0},{"y":22,"x":10,"c":0.49,"f":0},{"y":22,"x":11,"c":0.91,"f":2},{"y":22,"x":12,"c":0.64,"f":0},{"y":22,"x":13,"c":0.91,"f":2},{"y":22,"x":14,"c":0.55,"f":0},{"y":22,"x":15,"c":0.57,"f":0},{"y":22,"x":16,"c":0.59,"f":2},{"y":22,"x":17,"c":0.57,"f":0},{"y":22,"x":18,"c":0.57,"f":0},{"y":22,"x":19,"c":0.91,"f":2},{"y":22,"x":20,"c":0.96,"f":2},{"y":22,"x":21,"c":0.56,"f":0},{"y":22,"x":22,"c":1,"f":2},{"y":22,"x":23,"c":0.57,"f":0},{"y":22,"x":24,"c":0.98,"f":2},{"y":22,"x":25,"c":0.55,"f":0},{"y":22,"x":26,"c":0.86,"f":2},{"y":22,"x":27,"c":0.83,"f":2},{"y":22,"x":28,"c":0.57,"f":0},{"y":22,"x":29,"c":0.95,"f":2},{"y":22,"x":30,"c":0.83,"f":2},{"y":22,"x":31,"c":0.86,"f":2},{"y":22,"x":32,"c":0.86,"f":2},{"y":22,"x":33,"c":0.9,"f":2},{"y":22,"x":34,"c":0.47,"f":0},{"y":22,"x":35,"c":0.95,"f":2},{"y":22,"x":36,"c":0.51,"f":0},{"y":22,"x":37,"c":0.91,"f":2},{"y":22,"x":38,"c":0.95,"f":2},{"y":22,"x":39,"c":0.9,"f":2},{"y":22,"x":40,"c":0.93,"f":2},{"y":22,"x":41,"c":0.58,"f":0},{"y":22,"x":42,"c":0.91,"f":2},{"y":22,"x":43,"c":0.95,"f":2},
{"y":23,"x":1,"c":0.89,"f":1},{"y":23,"x":2,"c":0.9,"f":1},{"y":23,"x":3,"c":0.9,"f":1},{"y":23,"x":4,"c":0.92,"f":1},{"y":23,"x":5,"c":0.92,"f":1},{"y":23,"x":6,"c":0.92,"f":1},{"y":23,"x":7,"c":0.92,"f":1},{"y":23,"x":8,"c":0.93,"f":1},{"y":23,"x":9,"c":0.87,"f":1},{"y":23,"x":10,"c":0.85,"f":1},{"y":23,"x":11,"c":0.48,"f":0},{"y":23,"x":12,"c":0.79,"f":0},{"y":23,"x":13,"c":0.48,"f":0},{"y":23,"x":14,"c":0.86,"f":1},{"y":23,"x":15,"c":0.93,"f":1},{"y":23,"x":16,"c":0.52,"f":0},{"y":23,"x":17,"c":0.95,"f":1},{"y":23,"x":18,"c":0.95,"f":1},{"y":23,"x":19,"c":0.47,"f":0},{"y":23,"x":20,"c":0.42,"f":0},{"y":23,"x":21,"c":0.96,"f":1},{"y":23,"x":22,"c":0.42,"f":0},{"y":23,"x":23,"c":1,"f":1},{"y":23,"x":24,"c":0.42,"f":0},{"y":23,"x":25,"c":0.91,"f":1},{"y":23,"x":26,"c":0.49,"f":0},{"y":23,"x":27,"c":0.49,"f":0},{"y":23,"x":28,"c":0.88,"f":1},{"y":23,"x":29,"c":0.42,"f":0},{"y":23,"x":30,"c":0.5,"f":0},{"y":23,"x":31,"c":0.44,"f":0},{"y":23,"x":32,"c":0.44,"f":0},{"y":23,"x":33,"c":0.47,"f":0},{"y":23,"x":34,"c":0.87,"f":1},{"y":23,"x":35,"c":0.42,"f":0},{"y":23,"x":36,"c":0.83,"f":1},{"y":23,"x":37,"c":0.44,"f":0},{"y":23,"x":38,"c":0.44,"f":0},{"y":23,"x":39,"c":0.44,"f":0},{"y":23,"x":40,"c":0.44,"f":0},{"y":23,"x":41,"c":0.44,"f":0},{"y":23,"x":42,"c":0.44,"f":0},{"y":23,"x":43,"c":0.44,"f":0},
{"y":24,"x":1,"c":0.55,"f":0},{"y":24,"x":2,"c":0.58,"f":0},{"y":24,"x":3,"c":0.52,"f":0},{"y":24,"x":4,"c":0.51,"f":0},{"y":24,"x":5,"c":0.54,"f":0},{"y":24,"x":6,"c":0.58,"f":0},{"y":24,"x":7,"c":0.5,"f":0},{"y":24,"x":8,"c":0.55,"f":0},{"y":24,"x":9,"c":0.49,"f":0},{"y":24,"x":10,"c":0.49,"f":0},{"y":24,"x":11,"c":0.91,"f":2},{"y":24,"x":12,"c":0.64,"f":0},{"y":24,"x":13,"c":0.91,"f":2},{"y":24,"x":14,"c":0.55,"f":0},{"y":24,"x":15,"c":0.57,"f":0},{"y":24,"x":16,"c":0.59,"f":2},{"y":24,"x":17,"c":0.57,"f":0},{"y":24,"x":18,"c":0.57,"f":0},{"y":24,"x":19,"c":0.91,"f":2},{"y":24,"x":20,"c":0.96,"f":2},{"y":24,"x":21,"c":0.56,"f":0},{"y":24,"x":22,"c":0.98,"f":2},{"y":24,"x":23,"c":0.57,"f":0},{"y":24,"x":24,"c":1,"f":2},{"y":24,"x":25,"c":0.55,"f":0},{"y":24,"x":26,"c":0.86,"f":2},{"y":24,"x":27,"c":0.83,"f":2},{"y":24,"x":28,"c":0.57,"f":0},{"y":24,"x":29,"c":0.95,"f":2},{"y":24,"x":30,"c":0.83,"f":2},{"y":24,"x":31,"c":0.86,"f":2},{"y":24,"x":32,"c":0.86,"f":2},{"y":24,"x":33,"c":0.9,"f":2},{"y":24,"x":34,"c":0.47,"f":0},{"y":24,"x":35,"c":0.95,"f":2},{"y":24,"x":36,"c":0.51,"f":0},{"y":24,"x":37,"c":0.91,"f":2},{"y":24,"x":38,"c":0.95,"f":2},{"y":24,"x":39,"c":0.9,"f":2},{"y":24,"x":40,"c":0.93,"f":2},{"y":24,"x":41,"c":0.58,"f":0},{"y":24,"x":42,"c":0.91,"f":2},{"y":24,"x":43,"c":0.95,"f":2},
{"y":25,"x":1,"c":0.95,"f":1},{"y":25,"x":2,"c":0.95,"f":1},{"y":25,"x":3,"c":0.93,"f":1},{"y":25,"x":4,"c":0.91,"f":1},{"y":25,"x":5,"c":0.93,"f":1},{"y":25,"x":6,"c":0.89,"f":1},{"y":25,"x":7,"c":0.9,"f":1},{"y":25,"x":8,"c":0.93,"f":1},{"y":25,"x":9,"c":0.82,"f":1},{"y":25,"x":10,"c":0.79,"f":1},{"y":25,"x":11,"c":0.45,"f":0},{"y":25,"x":12,"c":0.74,"f":0},{"y":25,"x":13,"c":0.45,"f":0},{"y":25,"x":14,"c":0.91,"f":1},{"y":25,"x":15,"c":0.96,"f":1},{"y":25,"x":16,"c":0.49,"f":0},{"y":25,"x":17,"c":0.92,"f":1},{"y":25,"x":18,"c":0.91,"f":1},{"y":25,"x":19,"c":0.46,"f":0},{"y":25,"x":20,"c":0.41,"f":0},{"y":25,"x":21,"c":0.91,"f":1},{"y":25,"x":22,"c":0.4,"f":0},{"y":25,"x":23,"c":0.91,"f":1},{"y":25,"x":24,"c":0.4,"f":0},{"y":25,"x":25,"c":1,"f":1},{"y":25,"x":26,"c":0.48,"f":0},{"y":25,"x":27,"c":0.48,"f":0},{"y":25,"x":28,"c":0.75,"f":1},{"y":25,"x":29,"c":0.42,"f":0},{"y":25,"x":30,"c":0.46,"f":0},{"y":25,"x":31,"c":0.46,"f":0},{"y":25,"x":32,"c":0.46,"f":0},{"y":25,"x":33,"c":0.47,"f":0},{"y":25,"x":34,"c":0.78,"f":1},{"y":25,"x":35,"c":0.39,"f":0},{"y":25,"x":36,"c":0.75,"f":1},{"y":25,"x":37,"c":0.45,"f":0},{"y":25,"x":38,"c":0.42,"f":0},{"y":25,"x":39,"c":0.44,"f":0},{"y":25,"x":40,"c":0.44,"f":0},{"y":25,"x":41,"c":0.42,"f":0},{"y":25,"x":42,"c":0.44,"f":0},{"y":25,"x":43,"c":0.43,"f":0},
{"y":26,"x":1,"c":0.51,"f":0},{"y":26,"x":2,"c":0.52,"f":0},{"y":26,"x":3,"c":0.49,"f":0},{"y":26,"x":4,"c":0.5,"f":0},{"y":26,"x":5,"c":0.5,"f":0},{"y":26,"x":6,"c":0.64,"f":0},{"y":26,"x":7,"c":0.5,"f":0},{"y":26,"x":8,"c":0.51,"f":0},{"y":26,"x":9,"c":0.51,"f":0},{"y":26,"x":10,"c":0.53,"f":0},{"y":26,"x":11,"c":0.72,"f":2},{"y":26,"x":12,"c":0.7,"f":0},{"y":26,"x":13,"c":0.73,"f":2},{"y":26,"x":14,"c":0.56,"f":0},{"y":26,"x":15,"c":0.55,"f":0},{"y":26,"x":16,"c":0.51,"f":2},{"y":26,"x":17,"c":0.56,"f":0},{"y":26,"x":18,"c":0.56,"f":0},{"y":26,"x":19,"c":0.78,"f":2},{"y":26,"x":20,"c":0.86,"f":2},{"y":26,"x":21,"c":0.55,"f":0},{"y":26,"x":22,"c":0.86,"f":2},{"y":26,"x":23,"c":0.58,"f":0},{"y":26,"x":24,"c":0.86,"f":2},{"y":26,"x":25,"c":0.52,"f":0},{"y":26,"x":26,"c":1,"f":2},{"y":26,"x":27,"c":0.7,"f":2},{"y":26,"x":28,"c":0.58,"f":0},{"y":26,"x":29,"c":0.9,"f":2},{"y":26,"x":30,"c":0.7,"f":2},{"y":26,"x":31,"c":0.96,"f":2},{"y":26,"x":32,"c":0.96,"f":2},{"y":26,"x":33,"c":0.77,"f":2},{"y":26,"x":34,"c":0.5,"f":0},{"y":26,"x":35,"c":0.87,"f":2},{"y":26,"x":36,"c":0.56,"f":0},{"y":26,"x":37,"c":0.76,"f":2},{"y":26,"x":38,"c":0.83,"f":2},{"y":26,"x":39,"c":0.76,"f":2},{"y":26,"x":40,"c":0.8,"f":2},{"y":26,"x":41,"c":0.59,"f":0},{"y":26,"x":42,"c":0.77,"f":2},{"y":26,"x":43,"c":0.82,"f":2},
{"y":27,"x":1,"c":0.6,"f":0},{"y":27,"x":2,"c":0.63,"f":0},{"y":27,"x":3,"c":0.56,"f":0},{"y":27,"x":4,"c":0.54,"f":0},{"y":27,"x":5,"c":0.59,"f":0},{"y":27,"x":6,"c":0.64,"f":0},{"y":27,"x":7,"c":0.52,"f":0},{"y":27,"x":8,"c":0.59,"f":0},{"y":27,"x":9,"c":0.5,"f":0},{"y":27,"x":10,"c":0.51,"f":0},{"y":27,"x":11,"c":0.92,"f":2},{"y":27,"x":12,"c":0.6,"f":0},{"y":27,"x":13,"c":0.93,"f":2},{"y":27,"x":14,"c":0.62,"f":0},{"y":27,"x":15,"c":0.62,"f":0},{"y":27,"x":16,"c":0.73,"f":2},{"y":27,"x":17,"c":0.61,"f":0},{"y":27,"x":18,"c":0.63,"f":0},{"y":27,"x":19,"c":0.91,"f":2},{"y":27,"x":20,"c":0.82,"f":2},{"y":27,"x":21,"c":0.61,"f":0},{"y":27,"x":22,"c":0.82,"f":2},{"y":27,"x":23,"c":0.64,"f":0},{"y":27,"x":24,"c":0.82,"f":2},{"y":27,"x":25,"c":0.59,"f":0},{"y":27,"x":26,"c":0.7,"f":2},{"y":27,"x":27,"c":1,"f":2},{"y":27,"x":28,"c":0.6,"f":0},{"y":27,"x":29,"c":0.8,"f":2},{"y":27,"x":30,"c":0.98,"f":2},{"y":27,"x":31,"c":0.66,"f":2},{"y":27,"x":32,"c":0.66,"f":2},{"y":27,"x":33,"c":0.9,"f":2},{"y":27,"x":34,"c":0.5,"f":0},{"y":27,"x":35,"c":0.8,"f":2},{"y":27,"x":36,"c":0.57,"f":0},{"y":27,"x":37,"c":0.76,"f":2},{"y":27,"x":38,"c":0.8,"f":2},{"y":27,"x":39,"c":0.76,"f":2},{"y":27,"x":40,"c":0.77,"f":2},{"y":27,"x":41,"c":0.55,"f":0},{"y":27,"x":42,"c":0.77,"f":2},{"y":27,"x":43,"c":0.8,"f":2},
{"y":28,"x":1,"c":0.73,"f":1},{"y":28,"x":2,"c":0.73,"f":1},{"y":28,"x":3,"c":0.77,"f":1},{"y":28,"x":4,"c":0.82,"f":1},{"y":28,"x":5,"c":0.79,"f":1},{"y":28,"x":6,"c":0.78,"f":1},{"y":28,"x":7,"c":0.85,"f":1},{"y":28,"x":8,"c":0.8,"f":1},{"y":28,"x":9,"c":0.91,"f":1},{"y":28,"x":10,"c":0.91,"f":1},{"y":28,"x":11,"c":0.46,"f":0},{"y":28,"x":12,"c":0.86,"f":0},{"y":28,"x":13,"c":0.42,"f":0},{"y":28,"x":14,"c":0.74,"f":1},{"y":28,"x":15,"c":0.79,"f":1},{"y":28,"x":16,"c":0.49,"f":0},{"y":28,"x":17,"c":0.87,"f":1},{"y":28,"x":18,"c":0.84,"f":1},{"y":28,"x":19,"c":0.44,"f":0},{"y":28,"x":20,"c":0.44,"f":0},{"y":28,"x":21,"c":0.85,"f":1},{"y":28,"x":22,"c":0.43,"f":0},{"y":28,"x":23,"c":0.87,"f":1},{"y":28,"x":24,"c":0.43,"f":0},{"y":28,"x":25,"c":0.75,"f":1},{"y":28,"x":26,"c":0.5,"f":0},{"y":28,"x":27,"c":0.47,"f":0},{"y":28,"x":28,"c":1,"f":1},{"y":28,"x":29,"c":0.43,"f":0},{"y":28,"x":30,"c":0.45,"f":0},{"y":28,"x":31,"c":0.49,"f":0},{"y":28,"x":32,"c":0.49,"f":0},{"y":28,"x":33,"c":0.46,"f":0},{"y":28,"x":34,"c":0.77,"f":1},{"y":28,"x":35,"c":0.43,"f":0},{"y":28,"x":36,"c":0.95,"f":1},{"y":28,"x":37,"c":0.42,"f":0},{"y":28,"x":38,"c":0.42,"f":0},{"y":28,"x":39,"c":0.41,"f":0},{"y":28,"x":40,"c":0.41,"f":0},{"y":28,"x":41,"c":0.7,"f":0},{"y":28,"x":42,"c":0.42,"f":0},{"y":28,"x":43,"c":0.43,"f":0},
{"y":29,"x":1,"c":0.5,"f":0},{"y":29,"x":2,"c":0.52,"f":0},{"y":29,"x":3,"c":0.49,"f":0},{"y":29,"x":4,"c":0.5,"f":0},{"y":29,"x":5,"c":0.5,"f":0},{"y":29,"x":6,"c":0.57,"f":0},{"y":29,"x":7,"c":0.48,"f":0},{"y":29,"x":8,"c":0.5,"f":0},{"y":29,"x":9,"c":0.48,"f":0},{"y":29,"x":10,"c":0.48,"f":0},{"y":29,"x":11,"c":0.86,"f":2},{"y":29,"x":12,"c":0.7,"f":0},{"y":29,"x":13,"c":0.86,"f":2},{"y":29,"x":14,"c":0.52,"f":0},{"y":29,"x":15,"c":0.55,"f":0},{"y":29,"x":16,"c":0.56,"f":2},{"y":29,"x":17,"c":0.53,"f":0},{"y":29,"x":18,"c":0.53,"f":0},{"y":29,"x":19,"c":0.91,"f":2},{"y":29,"x":20,"c":0.95,"f":2},{"y":29,"x":21,"c":0.52,"f":0},{"y":29,"x":22,"c":0.95,"f":2},{"y":29,"x":23,"c":0.55,"f":0},{"y":29,"x":24,"c":0.95,"f":2},{"y":29,"x":25,"c":0.52,"f":0},{"y":29,"x":26,"c":0.9,"f":2},{"y":29,"x":27,"c":0.8,"f":2},{"y":29,"x":28,"c":0.54,"f":0},{"y":29,"x":29,"c":1,"f":2},{"y":29,"x":30,"c":0.8,"f":2},{"y":29,"x":31,"c":0.9,"f":2},{"y":29,"x":32,"c":0.9,"f":2},{"y":29,"x":33,"c":0.89,"f":2},{"y":29,"x":34,"c":0.47,"f":0},{"y":29,"x":35,"c":0.95,"f":2},{"y":29,"x":36,"c":0.51,"f":0},{"y":29,"x":37,"c":0.87,"f":2},{"y":29,"x":38,"c":0.95,"f":2},{"y":29,"x":39,"c":0.87,"f":2},{"y":29,"x":40,"c":0.93,"f":2},{"y":29,"x":41,"c":0.59,"f":0},{"y":29,"x":42,"c":0.88,"f":2},{"y":29,"x":43,"c":0.95,"f":2},
{"y":30,"x":1,"c":0.6,"f":0},{"y":30,"x":2,"c":0.63,"f":0},{"y":30,"x":3,"c":0.56,"f":0},{"y":30,"x":4,"c":0.54,"f":0},{"y":30,"x":5,"c":0.59,"f":0},{"y":30,"x":6,"c":0.64,"f":0},{"y":30,"x":7,"c":0.52,"f":0},{"y":30,"x":8,"c":0.59,"f":0},{"y":30,"x":9,"c":0.5,"f":0},{"y":30,"x":10,"c":0.51,"f":0},{"y":30,"x":11,"c":0.93,"f":2},{"y":30,"x":12,"c":0.6,"f":0},{"y":30,"x":13,"c":0.94,"f":2},{"y":30,"x":14,"c":0.61,"f":0},{"y":30,"x":15,"c":0.6,"f":0},{"y":30,"x":16,"c":0.74,"f":2},{"y":30,"x":17,"c":0.6,"f":0},{"y":30,"x":18,"c":0.63,"f":0},{"y":30,"x":19,"c":0.92,"f":2},{"y":30,"x":20,"c":0.83,"f":2},{"y":30,"x":21,"c":0.6,"f":0},{"y":30,"x":22,"c":0.83,"f":2},{"y":30,"x":23,"c":0.64,"f":0},{"y":30,"x":24,"c":0.83,"f":2},{"y":30,"x":25,"c":0.58,"f":0},{"y":30,"x":26,"c":0.7,"f":2},{"y":30,"x":27,"c":0.98,"f":2},{"y":30,"x":28,"c":0.6,"f":0},{"y":30,"x":29,"c":0.8,"f":2},{"y":30,"x":30,"c":1,"f":2},{"y":30,"x":31,"c":0.69,"f":2},{"y":30,"x":32,"c":0.69,"f":2},{"y":30,"x":33,"c":0.91,"f":2},{"y":30,"x":34,"c":0.5,"f":0},{"y":30,"x":35,"c":0.82,"f":2},{"y":30,"x":36,"c":0.56,"f":0},{"y":30,"x":37,"c":0.77,"f":2},{"y":30,"x":38,"c":0.82,"f":2},{"y":30,"x":39,"c":0.75,"f":2},{"y":30,"x":40,"c":0.77,"f":2},{"y":30,"x":41,"c":0.55,"f":0},{"y":30,"x":42,"c":0.79,"f":2},{"y":30,"x":43,"c":0.82,"f":2},
{"y":31,"x":1,"c":0.53,"f":0},{"y":31,"x":2,"c":0.54,"f":0},{"y":31,"x":3,"c":0.5,"f":0},{"y":31,"x":4,"c":0.5,"f":0},{"y":31,"x":5,"c":0.51,"f":0},{"y":31,"x":6,"c":0.59,"f":0},{"y":31,"x":7,"c":0.49,"f":0},{"y":31,"x":8,"c":0.51,"f":0},{"y":31,"x":9,"c":0.5,"f":0},{"y":31,"x":10,"c":0.53,"f":0},{"y":31,"x":11,"c":0.73,"f":2},{"y":31,"x":12,"c":0.7,"f":0},{"y":31,"x":13,"c":0.73,"f":2},{"y":31,"x":14,"c":0.53,"f":0},{"y":31,"x":15,"c":0.52,"f":0},{"y":31,"x":16,"c":0.5,"f":2},{"y":31,"x":17,"c":0.53,"f":0},{"y":31,"x":18,"c":0.53,"f":0},{"y":31,"x":19,"c":0.77,"f":2},{"y":31,"x":20,"c":0.86,"f":2},{"y":31,"x":21,"c":0.52,"f":0},{"y":31,"x":22,"c":0.86,"f":2},{"y":31,"x":23,"c":0.55,"f":0},{"y":31,"x":24,"c":0.86,"f":2},{"y":31,"x":25,"c":0.51,"f":0},{"y":31,"x":26,"c":0.96,"f":2},{"y":31,"x":27,"c":0.69,"f":2},{"y":31,"x":28,"c":0.55,"f":0},{"y":31,"x":29,"c":0.9,"f":2},{"y":31,"x":30,"c":0.69,"f":2},{"y":31,"x":31,"c":1,"f":2},{"y":31,"x":32,"c":0.99,"f":2},{"y":31,"x":33,"c":0.77,"f":2},{"y":31,"x":34,"c":0.5,"f":0},{"y":31,"x":35,"c":0.88,"f":2},{"y":31,"x":36,"c":0.56,"f":0},{"y":31,"x":37,"c":0.78,"f":2},{"y":31,"x":38,"c":0.85,"f":2},{"y":31,"x":39,"c":0.78,"f":2},{"y":31,"x":40,"c":0.82,"f":2},{"y":31,"x":41,"c":0.6,"f":0},{"y":31,"x":42,"c":0.78,"f":2},{"y":31,"x":43,"c":0.83,"f":2},
{"y":32,"x":1,"c":0.53,"f":0},{"y":32,"x":2,"c":0.54,"f":0},{"y":32,"x":3,"c":0.5,"f":0},{"y":32,"x":4,"c":0.5,"f":0},{"y":32,"x":5,"c":0.51,"f":0},{"y":32,"x":6,"c":0.59,"f":0},{"y":32,"x":7,"c":0.49,"f":0},{"y":32,"x":8,"c":0.51,"f":0},{"y":32,"x":9,"c":0.5,"f":0},{"y":32,"x":10,"c":0.53,"f":0},{"y":32,"x":11,"c":0.73,"f":2},{"y":32,"x":12,"c":0.7,"f":0},{"y":32,"x":13,"c":0.73,"f":2},{"y":32,"x":14,"c":0.53,"f":0},{"y":32,"x":15,"c":0.52,"f":0},{"y":32,"x":16,"c":0.5,"f":2},{"y":32,"x":17,"c":0.53,"f":0},{"y":32,"x":18,"c":0.53,"f":0},{"y":32,"x":19,"c":0.77,"f":2},{"y":32,"x":20,"c":0.86,"f":2},{"y":32,"x":21,"c":0.52,"f":0},{"y":32,"x":22,"c":0.86,"f":2},{"y":32,"x":23,"c":0.55,"f":0},{"y":32,"x":24,"c":0.86,"f":2},{"y":32,"x":25,"c":0.51,"f":0},{"y":32,"x":26,"c":0.96,"f":2},{"y":32,"x":27,"c":0.69,"f":2},{"y":32,"x":28,"c":0.55,"f":0},{"y":32,"x":29,"c":0.9,"f":2},{"y":32,"x":30,"c":0.69,"f":2},{"y":32,"x":31,"c":0.99,"f":2},{"y":32,"x":32,"c":1,"f":2},{"y":32,"x":33,"c":0.77,"f":2},{"y":32,"x":34,"c":0.5,"f":0},{"y":32,"x":35,"c":0.88,"f":2},{"y":32,"x":36,"c":0.56,"f":0},{"y":32,"x":37,"c":0.78,"f":2},{"y":32,"x":38,"c":0.85,"f":2},{"y":32,"x":39,"c":0.78,"f":2},{"y":32,"x":40,"c":0.83,"f":2},{"y":32,"x":41,"c":0.6,"f":0},{"y":32,"x":42,"c":0.78,"f":2},{"y":32,"x":43,"c":0.83,"f":2},
{"y":33,"x":1,"c":0.53,"f":0},{"y":33,"x":2,"c":0.56,"f":0},{"y":33,"x":3,"c":0.52,"f":0},{"y":33,"x":4,"c":0.5,"f":0},{"y":33,"x":5,"c":0.54,"f":0},{"y":33,"x":6,"c":0.64,"f":0},{"y":33,"x":7,"c":0.5,"f":0},{"y":33,"x":8,"c":0.54,"f":0},{"y":33,"x":9,"c":0.48,"f":0},{"y":33,"x":10,"c":0.48,"f":0},{"y":33,"x":11,"c":0.9,"f":2},{"y":33,"x":12,"c":0.76,"f":0},{"y":33,"x":13,"c":0.91,"f":2},{"y":33,"x":14,"c":0.61,"f":0},{"y":33,"x":15,"c":0.55,"f":0},{"y":33,"x":16,"c":0.64,"f":2},{"y":33,"x":17,"c":0.56,"f":0},{"y":33,"x":18,"c":0.57,"f":0},{"y":33,"x":19,"c":0.96,"f":2},{"y":33,"x":20,"c":0.9,"f":2},{"y":33,"x":21,"c":0.55,"f":0},{"y":33,"x":22,"c":0.9,"f":2},{"y":33,"x":23,"c":0.58,"f":0},{"y":33,"x":24,"c":0.9,"f":2},{"y":33,"x":25,"c":0.53,"f":0},{"y":33,"x":26,"c":0.77,"f":2},{"y":33,"x":27,"c":0.9,"f":2},{"y":33,"x":28,"c":0.56,"f":0},{"y":33,"x":29,"c":0.89,"f":2},{"y":33,"x":30,"c":0.91,"f":2},{"y":33,"x":31,"c":0.77,"f":2},{"y":33,"x":32,"c":0.77,"f":2},{"y":33,"x":33,"c":1,"f":2},{"y":33,"x":34,"c":0.48,"f":0},{"y":33,"x":35,"c":0.9,"f":2},{"y":33,"x":36,"c":0.52,"f":0},{"y":33,"x":37,"c":0.78,"f":2},{"y":33,"x":38,"c":0.9,"f":2},{"y":33,"x":39,"c":0.78,"f":2},{"y":33,"x":40,"c":0.82,"f":2},{"y":33,"x":41,"c":0.56,"f":0},{"y":33,"x":42,"c":0.8,"f":2},{"y":33,"x":43,"c":0.89,"f":2},
{"y":34,"x":1,"c":0.8,"f":1},{"y":34,"x":2,"c":0.79,"f":1},{"y":34,"x":3,"c":0.83,"f":1},{"y":34,"x":4,"c":0.83,"f":1},{"y":34,"x":5,"c":0.85,"f":1},{"y":34,"x":6,"c":0.8,"f":1},{"y":34,"x":7,"c":0.85,"f":1},{"y":34,"x":8,"c":0.84,"f":1},{"y":34,"x":9,"c":0.82,"f":1},{"y":34,"x":10,"c":0.82,"f":1},{"y":34,"x":11,"c":0.45,"f":0},{"y":34,"x":12,"c":0.74,"f":0},{"y":34,"x":13,"c":0.45,"f":0},{"y":34,"x":14,"c":0.77,"f":1},{"y":34,"x":15,"c":0.83,"f":1},{"y":34,"x":16,"c":0.44,"f":0},{"y":34,"x":17,"c":0.9,"f":1},{"y":34,"x":18,"c":0.87,"f":1},{"y":34,"x":19,"c":0.44,"f":0},{"y":34,"x":20,"c":0.44,"f":0},{"y":34,"x":21,"c":0.9,"f":1},{"y":34,"x":22,"c":0.43,"f":0},{"y":34,"x":23,"c":0.88,"f":1},{"y":34,"x":24,"c":0.43,"f":0},{"y":34,"x":25,"c":0.79,"f":1},{"y":34,"x":26,"c":0.5,"f":0},{"y":34,"x":27,"c":0.47,"f":0},{"y":34,"x":28,"c":0.78,"f":1},{"y":34,"x":29,"c":0.44,"f":0},{"y":34,"x":30,"c":0.45,"f":0},{"y":34,"x":31,"c":0.47,"f":0},{"y":34,"x":32,"c":0.47,"f":0},{"y":34,"x":33,"c":0.44,"f":0},{"y":34,"x":34,"c":1,"f":1},{"y":34,"x":35,"c":0.43,"f":0},{"y":34,"x":36,"c":0.82,"f":1},{"y":34,"x":37,"c":0.43,"f":0},{"y":34,"x":38,"c":0.43,"f":0},{"y":34,"x":39,"c":0.43,"f":0},{"y":34,"x":40,"c":0.43,"f":0},{"y":34,"x":41,"c":0.48,"f":0},{"y":34,"x":42,"c":0.41,"f":0},{"y":34,"x":43,"c":0.43,"f":0},
{"y":35,"x":1,"c":0.54,"f":0},{"y":35,"x":2,"c":0.57,"f":0},{"y":35,"x":3,"c":0.51,"f":0},{"y":35,"x":4,"c":0.5,"f":0},{"y":35,"x":5,"c":0.54,"f":0},{"y":35,"x":6,"c":0.58,"f":0},{"y":35,"x":7,"c":0.5,"f":0},{"y":35,"x":8,"c":0.54,"f":0},{"y":35,"x":9,"c":0.49,"f":0},{"y":35,"x":10,"c":0.49,"f":0},{"y":35,"x":11,"c":0.9,"f":2},{"y":35,"x":12,"c":0.64,"f":0},{"y":35,"x":13,"c":0.9,"f":2},{"y":35,"x":14,"c":0.55,"f":0},{"y":35,"x":15,"c":0.57,"f":0},{"y":35,"x":16,"c":0.6,"f":2},{"y":35,"x":17,"c":0.57,"f":0},{"y":35,"x":18,"c":0.57,"f":0},{"y":35,"x":19,"c":0.91,"f":2},{"y":35,"x":20,"c":0.95,"f":2},{"y":35,"x":21,"c":0.56,"f":0},{"y":35,"x":22,"c":0.95,"f":2},{"y":35,"x":23,"c":0.57,"f":0},{"y":35,"x":24,"c":0.95,"f":2},{"y":35,"x":25,"c":0.55,"f":0},{"y":35,"x":26,"c":0.87,"f":2},{"y":35,"x":27,"c":0.82,"f":2},{"y":35,"x":28,"c":0.57,"f":0},{"y":35,"x":29,"c":0.96,"f":2},{"y":35,"x":30,"c":0.83,"f":2},{"y":35,"x":31,"c":0.87,"f":2},{"y":35,"x":32,"c":0.87,"f":2},{"y":35,"x":33,"c":0.9,"f":2},{"y":35,"x":34,"c":0.47,"f":0},{"y":35,"x":35,"c":1,"f":2},{"y":35,"x":36,"c":0.52,"f":0},{"y":35,"x":37,"c":0.9,"f":2},{"y":35,"x":38,"c":0.96,"f":2},{"y":35,"x":39,"c":0.9,"f":2},{"y":35,"x":40,"c":0.93,"f":2},{"y":35,"x":41,"c":0.6,"f":0},{"y":35,"x":42,"c":0.9,"f":2},{"y":35,"x":43,"c":0.96,"f":2},
{"y":36,"x":1,"c":0.74,"f":1},{"y":36,"x":2,"c":0.74,"f":1},{"y":36,"x":3,"c":0.79,"f":1},{"y":36,"x":4,"c":0.82,"f":1},{"y":36,"x":5,"c":0.8,"f":1},{"y":36,"x":6,"c":0.77,"f":1},{"y":36,"x":7,"c":0.85,"f":1},{"y":36,"x":8,"c":0.81,"f":1},{"y":36,"x":9,"c":0.92,"f":1},{"y":36,"x":10,"c":0.92,"f":1},{"y":36,"x":11,"c":0.44,"f":0},{"y":36,"x":12,"c":0.86,"f":0},{"y":36,"x":13,"c":0.44,"f":0},{"y":36,"x":14,"c":0.77,"f":1},{"y":36,"x":15,"c":0.79,"f":1},{"y":36,"x":16,"c":0.47,"f":0},{"y":36,"x":17,"c":0.87,"f":1},{"y":36,"x":18,"c":0.84,"f":1},{"y":36,"x":19,"c":0.44,"f":0},{"y":36,"x":20,"c":0.44,"f":0},{"y":36,"x":21,"c":0.85,"f":1},{"y":36,"x":22,"c":0.44,"f":0},{"y":36,"x":23,"c":0.84,"f":1},{"y":36,"x":24,"c":0.44,"f":0},{"y":36,"x":25,"c":0.75,"f":1},{"y":36,"x":26,"c":0.5,"f":0},{"y":36,"x":27,"c":0.44,"f":0},{"y":36,"x":28,"c":0.94,"f":1},{"y":36,"x":29,"c":0.44,"f":0},{"y":36,"x":30,"c":0.42,"f":0},{"y":36,"x":31,"c":0.5,"f":0},{"y":36,"x":32,"c":0.5,"f":0},{"y":36,"x":33,"c":0.43,"f":0},{"y":36,"x":34,"c":0.82,"f":1},{"y":36,"x":35,"c":0.43,"f":0},{"y":36,"x":36,"c":1,"f":1},{"y":36,"x":37,"c":0.43,"f":0},{"y":36,"x":38,"c":0.43,"f":0},{"y":36,"x":39,"c":0.43,"f":0},{"y":36,"x":40,"c":0.43,"f":0},{"y":36,"x":41,"c":0.74,"f":0},{"y":36,"x":42,"c":0.43,"f":0},{"y":36,"x":43,"c":0.43,"f":0},
{"y":37,"x":1,"c":0.51,"f":0},{"y":37,"x":2,"c":0.54,"f":0},{"y":37,"x":3,"c":0.5,"f":0},{"y":37,"x":4,"c":0.5,"f":0},{"y":37,"x":5,"c":0.51,"f":0},{"y":37,"x":6,"c":0.56,"f":0},{"y":37,"x":7,"c":0.5,"f":0},{"y":37,"x":8,"c":0.51,"f":0},{"y":37,"x":9,"c":0.48,"f":0},{"y":37,"x":10,"c":0.49,"f":0},{"y":37,"x":11,"c":0.84,"f":2},{"y":37,"x":12,"c":0.55,"f":0},{"y":37,"x":13,"c":0.84,"f":2},{"y":37,"x":14,"c":0.52,"f":0},{"y":37,"x":15,"c":0.55,"f":0},{"y":37,"x":16,"c":0.72,"f":2},{"y":37,"x":17,"c":0.55,"f":0},{"y":37,"x":18,"c":0.56,"f":0},{"y":37,"x":19,"c":0.8,"f":2},{"y":37,"x":20,"c":0.9,"f":2},{"y":37,"x":21,"c":0.55,"f":0},{"y":37,"x":22,"c":0.9,"f":2},{"y":37,"x":23,"c":0.57,"f":0},{"y":37,"x":24,"c":0.9,"f":2},{"y":37,"x":25,"c":0.53,"f":0},{"y":37,"x":26,"c":0.76,"f":2},{"y":37,"x":27,"c":0.76,"f":2},{"y":37,"x":28,"c":0.56,"f":0},{"y":37,"x":29,"c":0.87,"f":2},{"y":37,"x":30,"c":0.77,"f":2},{"y":37,"x":31,"c":0.77,"f":2},{"y":37,"x":32,"c":0.77,"f":2},{"y":37,"x":33,"c":0.78,"f":2},{"y":37,"x":34,"c":0.47,"f":0},{"y":37,"x":35,"c":0.9,"f":2},{"y":37,"x":36,"c":0.54,"f":0},{"y":37,"x":37,"c":1,"f":2},{"y":37,"x":38,"c":0.92,"f":2},{"y":37,"x":39,"c":0.98,"f":2},{"y":37,"x":40,"c":0.96,"f":2},{"y":37,"x":41,"c":0.52,"f":0},{"y":37,"x":42,"c":0.97,"f":2},{"y":37,"x":43,"c":0.92,"f":2},
{"y":38,"x":1,"c":0.55,"f":0},{"y":38,"x":2,"c":0.58,"f":0},{"y":38,"x":3,"c":0.53,"f":0},{"y":38,"x":4,"c":0.52,"f":0},{"y":38,"x":5,"c":0.55,"f":0},{"y":38,"x":6,"c":0.59,"f":0},{"y":38,"x":7,"c":0.5,"f":0},{"y":38,"x":8,"c":0.56,"f":0},{"y":38,"x":9,"c":0.5,"f":0},{"y":38,"x":10,"c":0.5,"f":0},{"y":38,"x":11,"c":0.9,"f":2},{"y":38,"x":12,"c":0.63,"f":0},{"y":38,"x":13,"c":0.9,"f":2},{"y":38,"x":14,"c":0.56,"f":0},{"y":38,"x":15,"c":0.58,"f":0},{"y":38,"x":16,"c":0.66,"f":2},{"y":38,"x":17,"c":0.57,"f":0},{"y":38,"x":18,"c":0.57,"f":0},{"y":38,"x":19,"c":0.9,"f":2},{"y":38,"x":20,"c":0.95,"f":2},{"y":38,"x":21,"c":0.56,"f":0},{"y":38,"x":22,"c":0.95,"f":2},{"y":38,"x":23,"c":0.57,"f":0},{"y":38,"x":24,"c":0.95,"f":2},{"y":38,"x":25,"c":0.55,"f":0},{"y":38,"x":26,"c":0.83,"f":2},{"y":38,"x":27,"c":0.81,"f":2},{"y":38,"x":28,"c":0.57,"f":0},{"y":38,"x":29,"c":0.95,"f":2},{"y":38,"x":30,"c":0.83,"f":2},{"y":38,"x":31,"c":0.86,"f":2},{"y":38,"x":32,"c":0.86,"f":2},{"y":38,"x":33,"c":0.9,"f":2},{"y":38,"x":34,"c":0.47,"f":0},{"y":38,"x":35,"c":0.96,"f":2},{"y":38,"x":36,"c":0.54,"f":0},{"y":38,"x":37,"c":0.92,"f":2},{"y":38,"x":38,"c":1,"f":2},{"y":38,"x":39,"c":0.92,"f":2},{"y":38,"x":40,"c":0.95,"f":2},{"y":38,"x":41,"c":0.6,"f":0},{"y":38,"x":42,"c":0.93,"f":2},{"y":38,"x":43,"c":0.98,"f":2},
{"y":39,"x":1,"c":0.51,"f":0},{"y":39,"x":2,"c":0.54,"f":0},{"y":39,"x":3,"c":0.5,"f":0},{"y":39,"x":4,"c":0.5,"f":0},{"y":39,"x":5,"c":0.51,"f":0},{"y":39,"x":6,"c":0.56,"f":0},{"y":39,"x":7,"c":0.5,"f":0},{"y":39,"x":8,"c":0.51,"f":0},{"y":39,"x":9,"c":0.47,"f":0},{"y":39,"x":10,"c":0.49,"f":0},{"y":39,"x":11,"c":0.83,"f":2},{"y":39,"x":12,"c":0.54,"f":0},{"y":39,"x":13,"c":0.82,"f":2},{"y":39,"x":14,"c":0.51,"f":0},{"y":39,"x":15,"c":0.54,"f":0},{"y":39,"x":16,"c":0.7,"f":2},{"y":39,"x":17,"c":0.55,"f":0},{"y":39,"x":18,"c":0.56,"f":0},{"y":39,"x":19,"c":0.8,"f":2},{"y":39,"x":20,"c":0.9,"f":2},{"y":39,"x":21,"c":0.55,"f":0},{"y":39,"x":22,"c":0.9,"f":2},{"y":39,"x":23,"c":0.57,"f":0},{"y":39,"x":24,"c":0.9,"f":2},{"y":39,"x":25,"c":0.52,"f":0},{"y":39,"x":26,"c":0.76,"f":2},{"y":39,"x":27,"c":0.76,"f":2},{"y":39,"x":28,"c":0.56,"f":0},{"y":39,"x":29,"c":0.87,"f":2},{"y":39,"x":30,"c":0.75,"f":2},{"y":39,"x":31,"c":0.78,"f":2},{"y":39,"x":32,"c":0.78,"f":2},{"y":39,"x":33,"c":0.78,"f":2},{"y":39,"x":34,"c":0.47,"f":0},{"y":39,"x":35,"c":0.9,"f":2},{"y":39,"x":36,"c":0.54,"f":0},{"y":39,"x":37,"c":0.98,"f":2},{"y":39,"x":38,"c":0.92,"f":2},{"y":39,"x":39,"c":1,"f":2},{"y":39,"x":40,"c":0.96,"f":2},{"y":39,"x":41,"c":0.54,"f":0},{"y":39,"x":42,"c":0.97,"f":2},{"y":39,"x":43,"c":0.92,"f":2},
{"y":40,"x":1,"c":0.53,"f":0},{"y":40,"x":2,"c":0.56,"f":0},{"y":40,"x":3,"c":0.51,"f":0},{"y":40,"x":4,"c":0.51,"f":0},{"y":40,"x":5,"c":0.53,"f":0},{"y":40,"x":6,"c":0.58,"f":0},{"y":40,"x":7,"c":0.5,"f":0},{"y":40,"x":8,"c":0.54,"f":0},{"y":40,"x":9,"c":0.5,"f":0},{"y":40,"x":10,"c":0.5,"f":0},{"y":40,"x":11,"c":0.87,"f":2},{"y":40,"x":12,"c":0.57,"f":0},{"y":40,"x":13,"c":0.86,"f":2},{"y":40,"x":14,"c":0.54,"f":0},{"y":40,"x":15,"c":0.57,"f":0},{"y":40,"x":16,"c":0.7,"f":2},{"y":40,"x":17,"c":0.56,"f":0},{"y":40,"x":18,"c":0.57,"f":0},{"y":40,"x":19,"c":0.84,"f":2},{"y":40,"x":20,"c":0.93,"f":2},{"y":40,"x":21,"c":0.55,"f":0},{"y":40,"x":22,"c":0.93,"f":2},{"y":40,"x":23,"c":0.57,"f":0},{"y":40,"x":24,"c":0.93,"f":2},{"y":40,"x":25,"c":0.54,"f":0},{"y":40,"x":26,"c":0.8,"f":2},{"y":40,"x":27,"c":0.78,"f":2},{"y":40,"x":28,"c":0.57,"f":0},{"y":40,"x":29,"c":0.92,"f":2},{"y":40,"x":30,"c":0.77,"f":2},{"y":40,"x":31,"c":0.82,"f":2},{"y":40,"x":32,"c":0.82,"f":2},{"y":40,"x":33,"c":0.82,"f":2},{"y":40,"x":34,"c":0.47,"f":0},{"y":40,"x":35,"c":0.93,"f":2},{"y":40,"x":36,"c":0.54,"f":0},{"y":40,"x":37,"c":0.96,"f":2},{"y":40,"x":38,"c":0.95,"f":2},{"y":40,"x":39,"c":0.96,"f":2},{"y":40,"x":40,"c":1,"f":2},{"y":40,"x":41,"c":0.56,"f":0},{"y":40,"x":42,"c":0.96,"f":2},{"y":40,"x":43,"c":0.95,"f":2},
{"y":41,"x":1,"c":0.47,"f":0},{"y":41,"x":2,"c":0.48,"f":0},{"y":41,"x":3,"c":0.45,"f":0},{"y":41,"x":4,"c":0.45,"f":0},{"y":41,"x":5,"c":0.47,"f":0},{"y":41,"x":6,"c":0.5,"f":0},{"y":41,"x":7,"c":0.46,"f":0},{"y":41,"x":8,"c":0.48,"f":0},{"y":41,"x":9,"c":0.61,"f":0},{"y":41,"x":10,"c":0.64,"f":0},{"y":41,"x":11,"c":0.55,"f":0},{"y":41,"x":12,"c":0.77,"f":0},{"y":41,"x":13,"c":0.54,"f":0},{"y":41,"x":14,"c":0.48,"f":0},{"y":41,"x":15,"c":0.49,"f":0},{"y":41,"x":16,"c":0.47,"f":0},{"y":41,"x":17,"c":0.53,"f":0},{"y":41,"x":18,"c":0.51,"f":0},{"y":41,"x":19,"c":0.56,"f":0},{"y":41,"x":20,"c":0.59,"f":0},{"y":41,"x":21,"c":0.5,"f":0},{"y":41,"x":22,"c":0.59,"f":0},{"y":41,"x":23,"c":0.52,"f":0},{"y":41,"x":24,"c":0.59,"f":0},{"y":41,"x":25,"c":0.48,"f":0},{"y":41,"x":26,"c":0.6,"f":0},{"y":41,"x":27,"c":0.5,"f":0},{"y":41,"x":28,"c":0.72,"f":0},{"y":41,"x":29,"c":0.62,"f":0},{"y":41,"x":30,"c":0.5,"f":0},{"y":41,"x":31,"c":0.6,"f":0},{"y":41,"x":32,"c":0.6,"f":0},{"y":41,"x":33,"c":0.58,"f":0},{"y":41,"x":34,"c":0.48,"f":0},{"y":41,"x":35,"c":0.6,"f":0},{"y":41,"x":36,"c":0.74,"f":0},{"y":41,"x":37,"c":0.52,"f":0},{"y":41,"x":38,"c":0.6,"f":0},{"y":41,"x":39,"c":0.53,"f":0},{"y":41,"x":40,"c":0.55,"f":0},{"y":41,"x":41,"c":1,"f":0},{"y":41,"x":42,"c":0.54,"f":0},{"y":41,"x":43,"c":0.6,"f":0},
{"y":42,"x":1,"c":0.5,"f":0},{"y":42,"x":2,"c":0.53,"f":0},{"y":42,"x":3,"c":0.49,"f":0},{"y":42,"x":4,"c":0.49,"f":0},{"y":42,"x":5,"c":0.5,"f":0},{"y":42,"x":6,"c":0.57,"f":0},{"y":42,"x":7,"c":0.48,"f":0},{"y":42,"x":8,"c":0.5,"f":0},{"y":42,"x":9,"c":0.47,"f":0},{"y":42,"x":10,"c":0.48,"f":0},{"y":42,"x":11,"c":0.86,"f":2},{"y":42,"x":12,"c":0.55,"f":0},{"y":42,"x":13,"c":0.84,"f":2},{"y":42,"x":14,"c":0.5,"f":0},{"y":42,"x":15,"c":0.55,"f":0},{"y":42,"x":16,"c":0.72,"f":2},{"y":42,"x":17,"c":0.55,"f":0},{"y":42,"x":18,"c":0.56,"f":0},{"y":42,"x":19,"c":0.82,"f":2},{"y":42,"x":20,"c":0.91,"f":2},{"y":42,"x":21,"c":0.55,"f":0},{"y":42,"x":22,"c":0.91,"f":2},{"y":42,"x":23,"c":0.57,"f":0},{"y":42,"x":24,"c":0.91,"f":2},{"y":42,"x":25,"c":0.52,"f":0},{"y":42,"x":26,"c":0.77,"f":2},{"y":42,"x":27,"c":0.78,"f":2},{"y":42,"x":28,"c":0.56,"f":0},{"y":42,"x":29,"c":0.87,"f":2},{"y":42,"x":30,"c":0.79,"f":2},{"y":42,"x":31,"c":0.78,"f":2},{"y":42,"x":32,"c":0.78,"f":2},{"y":42,"x":33,"c":0.8,"f":2},{"y":42,"x":34,"c":0.45,"f":0},{"y":42,"x":35,"c":0.9,"f":2},{"y":42,"x":36,"c":0.54,"f":0},{"y":42,"x":37,"c":0.97,"f":2},{"y":42,"x":38,"c":0.93,"f":2},{"y":42,"x":39,"c":0.97,"f":2},{"y":42,"x":40,"c":0.96,"f":2},{"y":42,"x":41,"c":0.55,"f":0},{"y":42,"x":42,"c":1,"f":2},{"y":42,"x":43,"c":0.93,"f":2},
{"y":43,"x":1,"c":0.54,"f":0},{"y":43,"x":2,"c":0.58,"f":0},{"y":43,"x":3,"c":0.52,"f":0},{"y":43,"x":4,"c":0.52,"f":0},{"y":43,"x":5,"c":0.55,"f":0},{"y":43,"x":6,"c":0.59,"f":0},{"y":43,"x":7,"c":0.5,"f":0},{"y":43,"x":8,"c":0.55,"f":0},{"y":43,"x":9,"c":0.5,"f":0},{"y":43,"x":10,"c":0.5,"f":0},{"y":43,"x":11,"c":0.9,"f":2},{"y":43,"x":12,"c":0.61,"f":0},{"y":43,"x":13,"c":0.9,"f":2},{"y":43,"x":14,"c":0.56,"f":0},{"y":43,"x":15,"c":0.58,"f":0},{"y":43,"x":16,"c":0.69,"f":2},{"y":43,"x":17,"c":0.57,"f":0},{"y":43,"x":18,"c":0.57,"f":0},{"y":43,"x":19,"c":0.9,"f":2},{"y":43,"x":20,"c":0.95,"f":2},{"y":43,"x":21,"c":0.56,"f":0},{"y":43,"x":22,"c":0.95,"f":2},{"y":43,"x":23,"c":0.57,"f":0},{"y":43,"x":24,"c":0.95,"f":2},{"y":43,"x":25,"c":0.55,"f":0},{"y":43,"x":26,"c":0.82,"f":2},{"y":43,"x":27,"c":0.82,"f":2},{"y":43,"x":28,"c":0.58,"f":0},{"y":43,"x":29,"c":0.95,"f":2},{"y":43,"x":30,"c":0.82,"f":2},{"y":43,"x":31,"c":0.83,"f":2},{"y":43,"x":32,"c":0.83,"f":2},{"y":43,"x":33,"c":0.89,"f":2},{"y":43,"x":34,"c":0.47,"f":0},{"y":43,"x":35,"c":0.96,"f":2},{"y":43,"x":36,"c":0.56,"f":0},{"y":43,"x":37,"c":0.92,"f":2},{"y":43,"x":38,"c":0.98,"f":2},{"y":43,"x":39,"c":0.92,"f":2},{"y":43,"x":40,"c":0.95,"f":2},{"y":43,"x":41,"c":0.6,"f":0},{"y":43,"x":42,"c":0.93,"f":2},{"y":43,"x":43,"c":1,"f":2}
]},
"spacing":84,
"bounds":"flush",
"vconcat":[
 {
  "width":772,"height":596,
  "layer":[
   {"data":{"name":"m"},
    "mark":{"type":"rect"},
    "encoding":{
     "x":{"field":"x","type":"ordinal","scale":{"domain":[1,2,3,4,5,6,7,8,9,10,11,12,13,14,15,16,17,18,19,20,21,22,23,24,25,26,27,28,29,30,31,32,33,34,35,36,37,38,39,40,41,42,43],"paddingInner":0,"paddingOuter":0},"axis":{"orient":"bottom","values":[5,10,15,20,25,30,35,40],"labelAngle":0,"bandPosition":0.5,"labelPadding":20,"title":"Event number","titlePadding":3}},
     "y":{"field":"y","type":"ordinal","scale":{"domain":[1,2,3,4,5,6,7,8,9,10,11,12,13,14,15,16,17,18,19,20,21,22,23,24,25,26,27,28,29,30,31,32,33,34,35,36,37,38,39,40,41,42,43],"paddingInner":0,"paddingOuter":0},"axis":{"orient":"left","values":[5,10,15,20,25,30,35,40],"bandPosition":0.5,"labelPadding":17,"title":"Event number","titlePadding":8}},
     "color":{"field":"c","type":"quantitative","scale":{"domain":[0.37,1],"range":["#3e26a8","#4534cd","#4747eb","#4659fb","#3e6fff","#2e85fa","#2796eb","#1ca4dc","#08b1cd","#06b7c3","#12beb9","#2dc3a0","#55c784","#82c668","#acc44f","#cfc03f","#f0bc3a","#fec337","#fbd42e","#f5e722","#f9fb0e"]},
      "legend":{"orient":"right","type":"gradient","direction":"vertical","gradientLength":596,"gradientThickness":22,"gradientStrokeColor":"#262626","gradientStrokeWidth":1,"values":[0.4,0.5,0.6,0.7,0.8,0.9],"format":".1f","labelFontSize":23,"labelOffset":7,"labelColor":"#262626","title":"Cross correlation co-efficient","titleOrient":"right","titleAnchor":"middle","titleFontSize":26,"titleFontWeight":"bold","titleColor":"#000000","titlePadding":12,"titleLimit":800,"offset":9,"padding":0}}
    }},
   {"data":{"values":[{"label":"(a)","x":-7.02,"y":-0.87}]},
    "mark":{"type":"text","fontSize":37.5,"align":"left","baseline":"alphabetic","color":"#000000","font":"Liberation Sans"},
    "encoding":{
     "x":{"field":"x","type":"quantitative","scale":{"domain":[0.5,43.5],"nice":false,"zero":false},"axis":{"orient":"top","values":[5,10,15,20,25,30,35,40],"labels":false,"title":null}},
     "y":{"field":"y","type":"quantitative","scale":{"domain":[0.5,43.5],"nice":false,"zero":false,"reverse":true},"axis":{"orient":"right","values":[5,10,15,20,25,30,35,40],"labels":false,"title":null}},
     "text":{"field":"label"}
    }}
  ],
  "resolve":{"scale":{"x":"independent","y":"independent"}}
 },
 {
  "width":772,"height":632,
  "layer":[
   {"data":{"name":"m"},
    "mark":{"type":"rect","strokeWidth":1},
    "encoding":{
     "x":{"field":"x","type":"ordinal","scale":{"domain":[1,2,3,4,5,6,7,8,9,10,11,12,13,14,15,16,17,18,19,20,21,22,23,24,25,26,27,28,29,30,31,32,33,34,35,36,37,38,39,40,41,42,43],"paddingInner":0,"paddingOuter":0},"axis":{"orient":"bottom","values":[5,10,15,20,25,30,35,40],"labelAngle":0,"bandPosition":0.5,"labelPadding":20,"title":"Event number","titlePadding":3}},
     "y":{"field":"y","type":"ordinal","scale":{"domain":[1,2,3,4,5,6,7,8,9,10,11,12,13,14,15,16,17,18,19,20,21,22,23,24,25,26,27,28,29,30,31,32,33,34,35,36,37,38,39,40,41,42,43],"paddingInner":0,"paddingOuter":0},"axis":{"orient":"left","values":[5,10,15,20,25,30,35,40],"bandPosition":0.5,"labelPadding":17,"title":"Event number","titlePadding":8}},
     "color":{"field":"f","type":"nominal","scale":{"domain":[0,1,2],"range":["#ffffff","#000000","#a6a6a6"]},"legend":null},
     "stroke":{"field":"f","type":"nominal","scale":{"domain":[0,1,2],"range":["#ffffff","#000000","#a6a6a6"]},"legend":null}
    }},
   {"data":{"values":[{"label":"(b)","x":-7.02,"y":-1.03},{"label":"Family 1","x":1.33,"y":12.75},{"label":"Family 2","x":1.22,"y":39.42}]},
    "mark":{"type":"text","fontSize":37.5,"align":"left","baseline":"alphabetic","font":"Liberation Sans"},
    "encoding":{
     "x":{"field":"x","type":"quantitative","scale":{"domain":[0.5,43.5],"nice":false,"zero":false},"axis":{"orient":"top","values":[5,10,15,20,25,30,35,40],"labels":false,"title":null}},
     "y":{"field":"y","type":"quantitative","scale":{"domain":[0.5,43.5],"nice":false,"zero":false,"reverse":true},"axis":{"orient":"right","values":[5,10,15,20,25,30,35,40],"labels":false,"title":null}},
     "text":{"field":"label"},
     "color":{"condition":{"test":"datum.label === 'Family 2'","value":"#8f8f8f"},"value":"#000000"}
    }}
  ],
  "resolve":{"scale":{"x":"independent","y":"independent"}}
 }
]
}
